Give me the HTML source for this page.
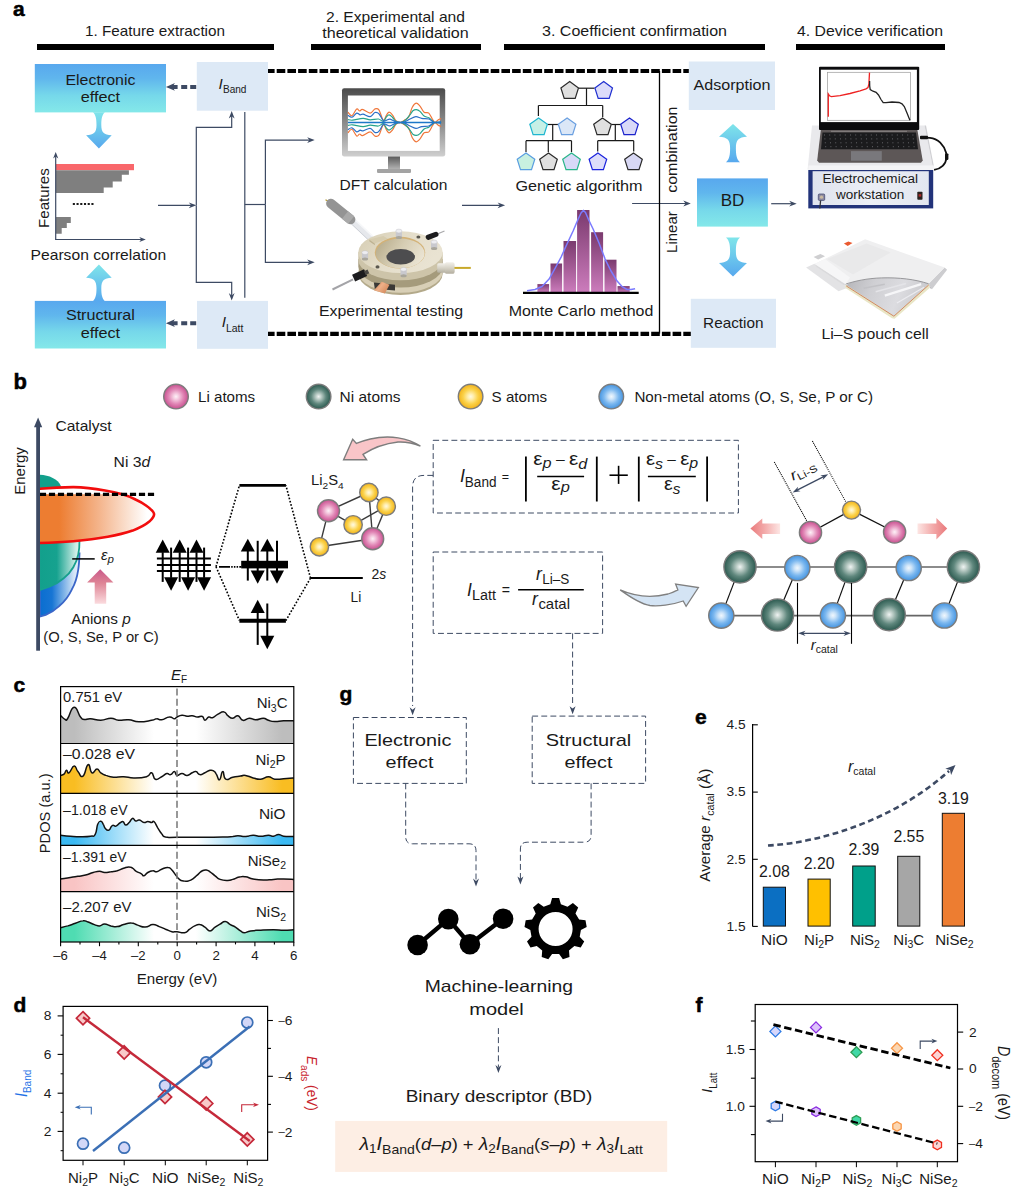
<!DOCTYPE html>
<html><head><meta charset="utf-8"><title>Figure</title>
<style>
html,body{margin:0;padding:0;background:#fff;}
svg{display:block;font-family:"Liberation Sans",sans-serif;}
text{white-space:pre;}
</style></head>
<body>
<svg width="1024" height="1195" viewBox="0 0 1024 1195">
<defs><linearGradient id="gBoxBlue" x1="0" y1="0" x2="0" y2="1"><stop offset="0" stop-color="#58a8ee"/><stop offset="0.3" stop-color="#60b6ed"/><stop offset="0.65" stop-color="#76d8ea"/><stop offset="1" stop-color="#84e8e9"/></linearGradient><linearGradient id="gDown" x1="0" y1="0" x2="0" y2="1"><stop offset="0" stop-color="#7fe5ea"/><stop offset="1" stop-color="#57a8ee"/></linearGradient><linearGradient id="gUp" x1="0" y1="0" x2="0" y2="1"><stop offset="0" stop-color="#7fe5ea"/><stop offset="1" stop-color="#57a8ee"/></linearGradient><linearGradient id="gUp2" x1="0" y1="0" x2="0" y2="1"><stop offset="0" stop-color="#7fe5ea"/><stop offset="1" stop-color="#57a8ee"/></linearGradient><linearGradient id="gDown2" x1="0" y1="0" x2="0" y2="1"><stop offset="0" stop-color="#7fe5ea"/><stop offset="1" stop-color="#57a8ee"/></linearGradient><linearGradient id="gMon" x1="0" y1="0" x2="0" y2="1"><stop offset="0" stop-color="#4b4b4b"/><stop offset="0.5" stop-color="#8a8a8a"/><stop offset="1" stop-color="#cfcfcf"/></linearGradient><linearGradient id="gNeck" x1="0" y1="0" x2="0" y2="1"><stop offset="0" stop-color="#5a5a5a"/><stop offset="1" stop-color="#b5b5b5"/></linearGradient><linearGradient id="gMC" gradientUnits="userSpaceOnUse" x1="0" y1="210" x2="0" y2="292"><stop offset="0" stop-color="#7a3a6e"/><stop offset="1" stop-color="#cc7cbc"/></linearGradient><linearGradient id="gPanel" x1="0" y1="0" x2="1" y2="0"><stop offset="0" stop-color="#dfe3ee"/><stop offset="0.5" stop-color="#eceff6"/><stop offset="1" stop-color="#e2e6f0"/></linearGradient><linearGradient id="gDisk" x1="0" y1="0" x2="1" y2="0.4"><stop offset="0" stop-color="#d5ccb2"/><stop offset="0.5" stop-color="#e4ddc9"/><stop offset="1" stop-color="#e9e3d2"/></linearGradient><linearGradient id="gBowl" x1="0" y1="0.3" x2="1" y2="0.7"><stop offset="0" stop-color="#b9ae8e"/><stop offset="0.45" stop-color="#d6cdb3"/><stop offset="1" stop-color="#ece6d6"/></linearGradient><linearGradient id="gCopper" x1="0" y1="0" x2="1" y2="0.6"><stop offset="0" stop-color="#c9784a"/><stop offset="0.5" stop-color="#eeb088"/><stop offset="1" stop-color="#d48a5c"/></linearGradient><linearGradient id="gSilver" x1="0" y1="0" x2="0" y2="1"><stop offset="0" stop-color="#f2f0ea"/><stop offset="0.5" stop-color="#d6d2c6"/><stop offset="1" stop-color="#b3ae9f"/></linearGradient><linearGradient id="gMCb" x1="0" y1="0" x2="0" y2="1"><stop offset="0" stop-color="#7a3a6e"/><stop offset="1" stop-color="#cc7cbc"/></linearGradient><linearGradient id="gFoil" x1="0" y1="0" x2="1" y2="0.2"><stop offset="0" stop-color="#b4b4b8"/><stop offset="0.35" stop-color="#cfcfd3"/><stop offset="0.7" stop-color="#dcdce0"/><stop offset="1" stop-color="#c9c9cd"/></linearGradient><radialGradient id="gLi" cx="0.5" cy="0.5" r="0.5"><stop offset="0" stop-color="#fdf1f7"/><stop offset="0.22" stop-color="#f5cde1"/><stop offset="0.6" stop-color="#e187b6"/><stop offset="1" stop-color="#c7508f"/></radialGradient><radialGradient id="gNi" cx="0.5" cy="0.5" r="0.5"><stop offset="0" stop-color="#f0f4f3"/><stop offset="0.22" stop-color="#bccdc7"/><stop offset="0.6" stop-color="#5f877d"/><stop offset="1" stop-color="#2b594f"/></radialGradient><radialGradient id="gS" cx="0.5" cy="0.5" r="0.5"><stop offset="0" stop-color="#fff9e0"/><stop offset="0.22" stop-color="#ffeeb0"/><stop offset="0.6" stop-color="#fbd24a"/><stop offset="1" stop-color="#f2b21a"/></radialGradient><radialGradient id="gX" cx="0.5" cy="0.5" r="0.5"><stop offset="0" stop-color="#f0f7fd"/><stop offset="0.22" stop-color="#cfe5f9"/><stop offset="0.6" stop-color="#7cb8ef"/><stop offset="1" stop-color="#4594e0"/></radialGradient><linearGradient id="gLobe" gradientUnits="userSpaceOnUse" x1="40" y1="0" x2="147" y2="0"><stop offset="0" stop-color="#ed7d31"/><stop offset="0.18" stop-color="#ed7d31"/><stop offset="0.55" stop-color="#f4b48b"/><stop offset="1" stop-color="#ffffff"/></linearGradient><linearGradient id="gBlob1" gradientUnits="userSpaceOnUse" x1="40" y1="0" x2="80" y2="0"><stop offset="0" stop-color="#12a08c"/><stop offset="0.42" stop-color="#16a28f"/><stop offset="0.9" stop-color="#cfeee7"/><stop offset="1" stop-color="#dff4ef"/></linearGradient><linearGradient id="gBlob2" gradientUnits="userSpaceOnUse" x1="40" y1="0" x2="80" y2="0"><stop offset="0" stop-color="#0a6ed0"/><stop offset="0.3" stop-color="#1775d4"/><stop offset="0.85" stop-color="#d3e5f7"/><stop offset="1" stop-color="#eaf2fb"/></linearGradient><linearGradient id="gPinkUp" gradientUnits="userSpaceOnUse" x1="0" y1="569" x2="0" y2="604"><stop offset="0" stop-color="#c9588a"/><stop offset="0.4" stop-color="#de8495"/><stop offset="1" stop-color="#fbdcdf"/></linearGradient><linearGradient id="gPinkL" gradientUnits="userSpaceOnUse" x1="750" y1="0" x2="780" y2="0"><stop offset="0" stop-color="#e9797b"/><stop offset="0.45" stop-color="#f2a6a6"/><stop offset="1" stop-color="#fde6e4"/></linearGradient><linearGradient id="gPinkR" gradientUnits="userSpaceOnUse" x1="917.5" y1="0" x2="947.2" y2="0"><stop offset="0" stop-color="#fde6e4"/><stop offset="0.55" stop-color="#f2a6a6"/><stop offset="1" stop-color="#e9797b"/></linearGradient><linearGradient id="gC1" gradientUnits="userSpaceOnUse" x1="60.6" y1="0" x2="293.8" y2="0"><stop offset="0" stop-color="#bdbdbd"/><stop offset="0.06" stop-color="#bdbdbd"/><stop offset="0.4" stop-color="#ffffff"/><stop offset="0.58" stop-color="#ffffff"/><stop offset="0.95" stop-color="#bdbdbd"/><stop offset="1" stop-color="#bdbdbd"/></linearGradient><linearGradient id="gC2" gradientUnits="userSpaceOnUse" x1="60.6" y1="0" x2="293.8" y2="0"><stop offset="0" stop-color="#f9bd22"/><stop offset="0.06" stop-color="#f9bd22"/><stop offset="0.4" stop-color="#ffffff"/><stop offset="0.58" stop-color="#ffffff"/><stop offset="0.95" stop-color="#f9bd22"/><stop offset="1" stop-color="#f9bd22"/></linearGradient><linearGradient id="gC3" gradientUnits="userSpaceOnUse" x1="60.6" y1="0" x2="293.8" y2="0"><stop offset="0" stop-color="#3bb9f2"/><stop offset="0.06" stop-color="#3bb9f2"/><stop offset="0.4" stop-color="#ffffff"/><stop offset="0.58" stop-color="#ffffff"/><stop offset="0.95" stop-color="#3bb9f2"/><stop offset="1" stop-color="#3bb9f2"/></linearGradient><linearGradient id="gC4" gradientUnits="userSpaceOnUse" x1="60.6" y1="0" x2="293.8" y2="0"><stop offset="0" stop-color="#f9c4c4"/><stop offset="0.06" stop-color="#f9c4c4"/><stop offset="0.4" stop-color="#ffffff"/><stop offset="0.58" stop-color="#ffffff"/><stop offset="0.95" stop-color="#f9c4c4"/><stop offset="1" stop-color="#f9c4c4"/></linearGradient><linearGradient id="gC5" gradientUnits="userSpaceOnUse" x1="60.6" y1="0" x2="293.8" y2="0"><stop offset="0" stop-color="#4fdcb2"/><stop offset="0.06" stop-color="#4fdcb2"/><stop offset="0.4" stop-color="#ffffff"/><stop offset="0.58" stop-color="#ffffff"/><stop offset="0.95" stop-color="#4fdcb2"/><stop offset="1" stop-color="#4fdcb2"/></linearGradient></defs>
<rect x="0" y="0" width="1024" height="1195" fill="#ffffff"/>
<g fill="#1a1a1a">
<text x="13.0" y="15.6" font-size="21" font-weight="bold" fill="#000" stroke="#000" stroke-width="0.5">a</text>
<text x="155.0" y="36.4" font-size="15" text-anchor="middle" textLength="140.0" lengthAdjust="spacingAndGlyphs">1. Feature extraction</text>
<text x="395.5" y="21.6" font-size="15" text-anchor="middle" textLength="139.0" lengthAdjust="spacingAndGlyphs">2. Experimental and</text>
<text x="395.5" y="38.4" font-size="15" text-anchor="middle" textLength="146.5" lengthAdjust="spacingAndGlyphs">theoretical validation</text>
<text x="634.5" y="36.4" font-size="15" text-anchor="middle" textLength="185.0" lengthAdjust="spacingAndGlyphs">3. Coefficient confirmation</text>
<text x="870.0" y="36.4" font-size="15" text-anchor="middle" textLength="146.0" lengthAdjust="spacingAndGlyphs">4. Device verification</text>
<rect x="37.0" y="44.0" width="237.0" height="6.0" fill="#000"/>
<rect x="311.0" y="44.0" width="170.0" height="6.0" fill="#000"/>
<rect x="504.0" y="44.0" width="261.0" height="6.0" fill="#000"/>
<rect x="796.0" y="44.0" width="149.0" height="6.0" fill="#000"/>
<line x1="266.0" y1="71.0" x2="689.0" y2="71.0" stroke="#000" stroke-width="4.2" stroke-dasharray="8.6 2.1"/>
<line x1="266.0" y1="333.9" x2="691.0" y2="333.9" stroke="#000" stroke-width="4.2" stroke-dasharray="8.6 2.1"/>
<rect x="34.8" y="64.0" width="131.2" height="48.4" fill="url(#gBoxBlue)"/>
<rect x="34.8" y="300.9" width="131.2" height="47.6" fill="url(#gBoxBlue)"/>
<rect x="196.8" y="62.0" width="71.2" height="48.7" fill="#dde9f6"/>
<rect x="197.0" y="300.9" width="71.0" height="47.9" fill="#dde9f6"/>
<rect x="688.8" y="61.5" width="86.2" height="48.5" fill="#dde9f6"/>
<rect x="690.8" y="298.8" width="85.2" height="49.0" fill="#dde9f6"/>
<rect x="697.0" y="178.4" width="70.9" height="48.2" fill="url(#gBoxBlue)"/>
<text x="100.4" y="85.0" font-size="15" text-anchor="middle" textLength="70.0" lengthAdjust="spacingAndGlyphs">Electronic</text>
<text x="100.4" y="102.4" font-size="15" text-anchor="middle" textLength="39.5" lengthAdjust="spacingAndGlyphs">effect</text>
<text x="100.4" y="320.4" font-size="15" text-anchor="middle" textLength="69.0" lengthAdjust="spacingAndGlyphs">Structural</text>
<text x="100.4" y="337.6" font-size="15" text-anchor="middle" textLength="39.5" lengthAdjust="spacingAndGlyphs">effect</text>
<g transform="translate(218.60 89.30)"><text x="0.00" y="0.00" font-size="15.3" font-style="italic">I</text></g>
<g transform="translate(222.90 92.70) scale(0.8711 1)"><text x="0.00" y="0.00" font-size="11.6">Band</text></g>
<g transform="translate(221.80 327.10)"><text x="0.00" y="0.00" font-size="15.3" font-style="italic">I</text></g>
<g transform="translate(225.90 331.80) scale(0.9044 1)"><text x="0.00" y="0.00" font-size="11.6">Latt</text></g>
<text x="732.0" y="90.1" font-size="15" text-anchor="middle" textLength="77.0" lengthAdjust="spacingAndGlyphs">Adsorption</text>
<text x="733.3" y="327.9" font-size="15" text-anchor="middle" textLength="60.4" lengthAdjust="spacingAndGlyphs">Reaction</text>
<text x="732.6" y="206.2" font-size="17" text-anchor="middle" textLength="23.6" lengthAdjust="spacingAndGlyphs">BD</text>
<line x1="196.2" y1="86.9" x2="172.0" y2="86.9" stroke="#3d4a63" stroke-width="4" stroke-dasharray="6 3 6 3.6 20"/>
<polygon points="165.9,86.9 174.9,83.0 172.4,86.9 174.9,90.8" fill="#3d4a63"/>
<line x1="196.2" y1="323.2" x2="172.0" y2="323.2" stroke="#3d4a63" stroke-width="4" stroke-dasharray="6 3 6 3.6 20"/>
<polygon points="165.9,323.2 174.9,319.3 172.4,323.2 174.9,327.1" fill="#3d4a63"/>
<path d="M92.9,112.2 C95.9,115.0 96.5,119.1 96.5,124.9 C96.5,132.4 94.0,134.6 86.1,135.2 L98.9,148.4 L111.7,135.2 C103.8,134.6 101.3,132.4 101.3,124.9 C101.3,119.1 101.9,115.0 104.9,112.2 Z" fill="url(#gDown)"/>
<path d="M92.9,301.2 C95.9,298.4 96.5,294.1 96.5,288.3 C96.5,280.5 94.0,278.3 86.1,277.7 L98.9,264.5 L111.7,277.7 C103.8,278.3 101.3,280.5 101.3,288.3 C101.3,294.1 101.9,298.4 104.9,301.2 Z" fill="url(#gUp)"/>
<path d="M726.0,162.3 C729.5,159.2 730.1,154.7 730.1,148.3 C730.1,139.9 727.6,137.4 719.0,136.8 L733.0,124.0 L747.0,136.8 C738.4,137.4 735.9,139.9 735.9,148.3 C735.9,154.7 736.5,159.2 740.0,162.3 Z" fill="url(#gUp2)"/>
<path d="M726.0,237.5 C729.5,240.6 730.1,245.2 730.1,251.5 C730.1,259.9 727.6,262.4 719.0,263.0 L733.0,276.6 L747.0,263.0 C738.4,262.4 735.9,259.9 735.9,251.5 C735.9,245.2 736.5,240.6 740.0,237.5 Z" fill="url(#gDown2)"/>
<rect x="56.0" y="164.0" width="78.0" height="6.2" fill="#f9676b"/>
<polygon points="56.0,170.2 128.9,170.2 128.9,174.7 121.8,174.7 121.8,181.5 112.7,181.5 112.7,187.5 103.7,187.5 103.7,192.9 56.0,192.9" fill="#7f7f7f"/>
<polygon points="56.0,217.0 70.8,217.0 70.8,222.9 66.8,222.9 66.8,228.0 61.7,228.0 61.7,233.7 56.0,233.7" fill="#7f7f7f"/>
<polyline points="55.7,239.5 55.7,155.9" fill="none" stroke="#3d4a63" stroke-width="1.2"/><polygon points="55.7,152.0 58.3,158.5 55.7,156.6 53.1,158.5" fill="#3d4a63"/>
<polyline points="55.1,239.5 141.9,239.5" fill="none" stroke="#3d4a63" stroke-width="1.2"/><polygon points="145.8,239.5 139.3,242.1 141.2,239.5 139.3,236.9" fill="#3d4a63"/>
<line x1="72.8" y1="204.0" x2="94.6" y2="204.0" stroke="#1a1a1a" stroke-width="2" stroke-dasharray="2.1 1.62"/>
<text x="48.6" y="198.1" font-size="15.5" text-anchor="middle" textLength="59.6" lengthAdjust="spacingAndGlyphs" transform="rotate(-90 48.6 198.1)">Features</text>
<text x="98.4" y="260.0" font-size="15" text-anchor="middle" textLength="135.6" lengthAdjust="spacingAndGlyphs">Pearson correlation</text>
<polyline points="158.0,205.3 191.8,205.3" fill="none" stroke="#3d4a63" stroke-width="1.2"/><polygon points="196.3,205.3 188.8,208.2 191.1,205.3 188.8,202.4" fill="#3d4a63"/>
<polyline points="196.3,205.3 196.3,127.4 231.7,127.4 231.7,115.4" fill="none" stroke="#3d4a63" stroke-width="1.2"/><polygon points="231.7,110.9 234.6,118.4 231.7,116.2 228.8,118.4" fill="#3d4a63"/>
<polyline points="196.3,205.3 196.3,282.4 231.7,282.4 231.7,296.1" fill="none" stroke="#3d4a63" stroke-width="1.2"/><polygon points="231.7,300.6 228.8,293.1 231.7,295.4 234.6,293.1" fill="#3d4a63"/>
<line x1="244.8" y1="112.0" x2="244.8" y2="297.7" stroke="#3d4a63" stroke-width="1.2"/>
<line x1="244.8" y1="204.5" x2="265.4" y2="204.5" stroke="#3d4a63" stroke-width="1.2"/>
<polyline points="265.4,204.5 265.4,140.1 310.2,140.1" fill="none" stroke="#3d4a63" stroke-width="1.2"/><polygon points="314.7,140.1 307.2,143.0 309.4,140.1 307.2,137.2" fill="#3d4a63"/>
<polyline points="265.4,204.5 265.4,262.3 310.2,262.3" fill="none" stroke="#3d4a63" stroke-width="1.2"/><polygon points="314.7,262.3 307.2,265.2 309.4,262.3 307.2,259.4" fill="#3d4a63"/>
<polyline points="462.0,205.3 500.6,205.3" fill="none" stroke="#3d4a63" stroke-width="1.2"/><polygon points="505.1,205.3 497.6,208.2 499.9,205.3 497.6,202.4" fill="#3d4a63"/>
<polyline points="632.1,203.5 686.3,203.5" fill="none" stroke="#3d4a63" stroke-width="1.2"/><polygon points="690.8,203.5 683.3,206.4 685.5,203.5 683.3,200.6" fill="#3d4a63"/>
<polyline points="771.2,203.7 792.2,203.7" fill="none" stroke="#3d4a63" stroke-width="1.2"/><polygon points="796.7,203.7 789.2,206.6 791.5,203.7 789.2,200.8" fill="#3d4a63"/>
<line x1="659.5" y1="71.0" x2="659.5" y2="333.5" stroke="#000" stroke-width="1.3"/>
<text x="677.0" y="149.7" font-size="15" text-anchor="middle" textLength="86.3" lengthAdjust="spacingAndGlyphs" transform="rotate(-90 677.0 149.7)">combination</text>
<text x="677.0" y="232.1" font-size="15" text-anchor="middle" textLength="41.6" lengthAdjust="spacingAndGlyphs" transform="rotate(-90 677.0 232.1)">Linear</text>
<text x="393.5" y="189.7" font-size="15" text-anchor="middle" textLength="107.9" lengthAdjust="spacingAndGlyphs">DFT calculation</text>
<text x="391.0" y="316.3" font-size="15" text-anchor="middle" textLength="144.2" lengthAdjust="spacingAndGlyphs">Experimental testing</text>
<text x="579.0" y="190.6" font-size="15" text-anchor="middle" textLength="127.0" lengthAdjust="spacingAndGlyphs">Genetic algorithm</text>
<text x="581.0" y="315.7" font-size="15" text-anchor="middle" textLength="144.6" lengthAdjust="spacingAndGlyphs">Monte Carlo method</text>
<text x="875.2" y="338.6" font-size="15" text-anchor="middle" textLength="107.3" lengthAdjust="spacingAndGlyphs">Li–S pouch cell</text>
<rect x="342.0" y="88.3" width="103.2" height="68.2" fill="url(#gMon)" rx="2.2"/><rect x="347.9" y="95.5" width="91.8" height="55.4" fill="#fff"/><rect x="388.0" y="156.5" width="12.0" height="13.0" fill="url(#gNeck)"/><rect x="377.0" y="169.1" width="34.0" height="3.8" fill="#a3a3a3" rx="0.8"/><path d="M347.9,112.2 C348.6,112.8 350.5,116.2 352.0,115.7 C353.5,115.2 355.4,109.8 356.7,109.0 C358.0,108.2 358.6,111.0 359.6,111.0 C360.6,111.1 360.8,109.0 362.5,109.4 C364.3,109.7 368.1,113.2 370.2,113.1 C372.2,113.1 373.4,109.6 374.8,109.0 C376.3,108.5 377.5,108.0 378.9,109.8 C380.4,111.7 382.0,119.3 383.3,120.2 C384.6,121.0 385.6,116.2 386.6,114.9 C387.5,113.6 388.2,112.2 389.1,112.2 C390.1,112.2 391.3,113.5 392.4,114.9 C393.6,116.3 394.6,119.5 395.9,120.7 C397.3,122.0 399.1,122.5 400.6,122.3 C402.2,122.1 403.9,120.5 405.3,119.6 C406.7,118.6 407.7,118.7 408.8,116.6 C410.0,114.6 411.1,109.5 412.3,107.3 C413.6,105.0 414.8,103.4 416.1,103.2 C417.4,103.0 418.6,104.6 420.0,106.1 C421.3,107.6 422.6,111.0 424.1,112.2 C425.5,113.4 427.4,112.0 428.8,113.1 C430.1,114.3 431.3,117.5 432.3,119.0 C433.3,120.5 433.9,122.1 434.8,122.3 C435.8,122.4 437.1,120.6 438.1,119.9 C439.2,119.3 440.6,118.7 441.1,118.4" fill="none" stroke="#f0763a" stroke-width="1.2"/><path d="M347.9,132.8 C348.6,132.2 350.5,128.8 352.0,129.3 C353.5,129.8 355.4,135.2 356.7,136.0 C358.0,136.8 358.6,134.0 359.6,134.0 C360.6,133.9 360.8,136.0 362.5,135.6 C364.3,135.3 368.1,131.8 370.2,131.9 C372.2,131.9 373.4,135.4 374.8,136.0 C376.3,136.5 377.5,137.0 378.9,135.2 C380.4,133.3 382.0,125.7 383.3,124.8 C384.6,124.0 385.6,128.8 386.6,130.1 C387.5,131.4 388.2,132.8 389.1,132.8 C390.1,132.8 391.3,131.5 392.4,130.1 C393.6,128.7 394.6,125.5 395.9,124.3 C397.3,123.0 399.1,122.5 400.6,122.7 C402.2,122.9 403.9,124.5 405.3,125.4 C406.7,126.4 407.7,126.3 408.8,128.4 C410.0,130.4 411.1,135.5 412.3,137.7 C413.6,140.0 414.8,141.6 416.1,141.8 C417.4,142.0 418.6,140.4 420.0,138.9 C421.3,137.4 422.6,134.0 424.1,132.8 C425.5,131.6 427.4,133.0 428.8,131.9 C430.1,130.7 431.3,127.5 432.3,126.0 C433.3,124.5 433.9,122.9 434.8,122.7 C435.8,122.6 437.1,124.4 438.1,125.1 C439.2,125.7 440.6,126.3 441.1,126.6" fill="none" stroke="#f0763a" stroke-width="1.2"/><path d="M347.9,119.6 C348.7,119.7 350.0,120.4 352.6,120.2 C355.1,120.0 360.2,118.4 363.1,118.4 C366.1,118.4 367.6,119.8 370.2,119.9 C372.7,120.0 376.2,118.8 378.4,119.0 C380.5,119.2 381.9,121.7 383.3,121.3 C384.7,120.9 385.6,117.7 386.6,116.6 C387.5,115.6 388.2,114.8 389.1,114.9 C390.1,115.0 391.3,116.2 392.4,117.2 C393.6,118.3 394.6,120.5 395.9,121.3 C397.3,122.2 399.1,122.7 400.6,122.5 C402.2,122.3 403.8,121.4 405.3,120.2 C406.9,118.9 408.7,116.4 410.0,114.9 C411.3,113.3 411.9,111.7 412.9,110.8 C414.0,109.9 415.3,109.5 416.4,109.6 C417.6,109.7 418.7,110.3 420.0,111.4 C421.2,112.4 422.6,115.0 424.1,116.1 C425.5,117.1 427.3,116.9 428.8,117.8 C430.2,118.7 431.8,120.5 432.9,121.3 C433.9,122.1 433.5,122.3 434.8,122.5 C436.2,122.7 440.0,122.3 441.1,122.3" fill="none" stroke="#27a48b" stroke-width="1.2"/><path d="M347.9,125.4 C348.7,125.3 350.0,124.6 352.6,124.8 C355.1,125.0 360.2,126.6 363.1,126.6 C366.1,126.6 367.6,125.2 370.2,125.1 C372.7,125.0 376.2,126.3 378.4,126.0 C380.5,125.8 381.9,123.3 383.3,123.7 C384.7,124.1 385.6,127.3 386.6,128.4 C387.5,129.4 388.2,130.2 389.1,130.1 C390.1,130.0 391.3,128.8 392.4,127.8 C393.6,126.7 394.6,124.6 395.9,123.7 C397.3,122.8 399.1,122.3 400.6,122.5 C402.2,122.7 403.8,123.6 405.3,124.8 C406.9,126.1 408.7,128.6 410.0,130.1 C411.3,131.7 411.9,133.3 412.9,134.2 C414.0,135.1 415.3,135.5 416.4,135.4 C417.6,135.3 418.7,134.7 420.0,133.6 C421.2,132.6 422.6,130.0 424.1,128.9 C425.5,127.9 427.3,128.1 428.8,127.2 C430.2,126.3 431.8,124.5 432.9,123.7 C433.9,122.9 433.5,122.7 434.8,122.5 C436.2,122.3 440.0,122.7 441.1,122.7" fill="none" stroke="#27a48b" stroke-width="1.2"/><path d="M347.9,115.2 C348.6,115.6 350.5,117.6 352.0,117.2 C353.5,116.9 355.3,113.5 356.7,113.1 C358.0,112.7 359.1,114.7 360.2,114.9 C361.3,115.0 361.5,113.8 363.1,114.1 C364.8,114.4 368.2,116.9 370.2,116.6 C372.1,116.4 373.4,113.0 374.8,112.5 C376.3,112.1 377.5,112.3 378.9,113.7 C380.4,115.1 382.0,119.7 383.3,120.7 C384.6,121.8 385.4,120.4 386.6,120.2 C387.7,119.9 388.5,118.9 390.1,119.2 C391.6,119.5 394.2,121.4 395.9,121.9 C397.7,122.5 399.1,122.6 400.6,122.5 C402.2,122.4 403.8,122.1 405.3,121.6 C406.9,121.0 408.2,119.8 410.0,119.0 C411.8,118.2 413.9,116.7 415.9,116.6 C417.8,116.5 419.6,118.0 421.7,118.4 C423.9,118.8 426.9,118.5 428.8,119.0 C430.6,119.5 431.8,121.0 432.9,121.6 C433.9,122.1 433.5,122.4 434.8,122.5 C436.2,122.6 440.0,122.0 441.1,121.9" fill="none" stroke="#2a6fc6" stroke-width="1.2"/><path d="M347.9,129.8 C348.6,129.4 350.5,127.4 352.0,127.8 C353.5,128.1 355.3,131.5 356.7,131.9 C358.0,132.3 359.1,130.3 360.2,130.1 C361.3,130.0 361.5,131.2 363.1,130.9 C364.8,130.6 368.2,128.1 370.2,128.4 C372.1,128.6 373.4,132.0 374.8,132.5 C376.3,133.0 377.5,132.7 378.9,131.3 C380.4,129.9 382.0,125.3 383.3,124.3 C384.6,123.2 385.4,124.6 386.6,124.8 C387.7,125.1 388.5,126.1 390.1,125.8 C391.6,125.5 394.2,123.6 395.9,123.1 C397.7,122.5 399.1,122.4 400.6,122.5 C402.2,122.6 403.8,122.9 405.3,123.4 C406.9,124.0 408.2,125.2 410.0,126.0 C411.8,126.8 413.9,128.3 415.9,128.4 C417.8,128.5 419.6,127.0 421.7,126.6 C423.9,126.2 426.9,126.5 428.8,126.0 C430.6,125.5 431.8,124.0 432.9,123.4 C433.9,122.9 433.5,122.6 434.8,122.5 C436.2,122.4 440.0,123.0 441.1,123.1" fill="none" stroke="#2a6fc6" stroke-width="1.2"/><line x1="347.9" y1="122.5" x2="441.0" y2="122.5" stroke="#1e78c8" stroke-width="1.3"/>
<line x1="325.5" y1="199.7" x2="330.2" y2="202.3" stroke="#b89a30" stroke-width="1.3"/><line x1="351.2" y1="220.0" x2="370.8" y2="238.4" stroke="#e6e8ec" stroke-width="6.2"/><line x1="353.6" y1="218.4" x2="372.3" y2="235.9" stroke="#f6f7f9" stroke-width="1.6"/><line x1="349.4" y1="221.9" x2="368.8" y2="240.3" stroke="#cfd2d8" stroke-width="1.0"/><line x1="330.9" y1="203.6" x2="350.6" y2="219.5" stroke="#949494" stroke-width="9.6" stroke-linecap="round"/><line x1="345.0" y1="215.0" x2="351.2" y2="220.0" stroke="#a9a9a9" stroke-width="9.6"/><ellipse cx="400.5" cy="273.5" rx="42.2" ry="21.5" fill="#b3a98a"/><ellipse cx="400.5" cy="271.5" rx="42.2" ry="21.3" fill="#d8cfb6"/><path d="M358.3,259 L358.3,266.5 A42.2,21 0 0 0 442.7,266.5 L442.7,259 Z" fill="#a59b7c"/><path d="M358.3,252.2 L358.3,259.4 A42.2,20.9 0 0 0 442.7,259.4 L442.7,252.2 Z" fill="#cdc4a9"/><ellipse cx="400.5" cy="252.2" rx="42.2" ry="20.9" fill="url(#gDisk)"/><polygon points="373.9,282.5 395.0,284.8 395.0,290.6 374.7,288.8" fill="#3a3936"/><polygon points="373.9,290.3 381.7,281.7 389.5,284.8 384.8,293.4" fill="url(#gCopper)"/><ellipse cx="400.0" cy="252.6" rx="25.2" ry="15.8" fill="#d3b277"/><ellipse cx="400.2" cy="253.4" rx="24.4" ry="14.9" fill="url(#gBowl)"/><ellipse cx="400.7" cy="256.7" rx="14.3" ry="7.8" fill="#4d4d4f"/><polygon points="369.2,239.5 383.3,235.9 388.0,238.8 374.7,243.4" fill="#d6ccaf"/><polygon points="369.2,239.5 374.7,243.4 375.0,245.3 369.5,241.4" fill="#bdb291"/><rect x="395.8" y="231.0" width="6.2" height="6.5" fill="#c9c9ce"/><ellipse cx="398.9" cy="237.5" rx="3.1" ry="1.5" fill="#a9a69b"/><ellipse cx="398.9" cy="231.0" rx="3.1" ry="1.9" fill="#ededf1" stroke="#bdbdc2" stroke-width="0.4"/><rect x="361.9" y="252.6" width="6.2" height="6.5" fill="#c9c9ce"/><ellipse cx="365.0" cy="259.1" rx="3.1" ry="1.5" fill="#a9a69b"/><ellipse cx="365.0" cy="252.6" rx="3.1" ry="1.9" fill="#ededf1" stroke="#bdbdc2" stroke-width="0.4"/><rect x="431.0" y="241.9" width="6.2" height="6.5" fill="#c9c9ce"/><ellipse cx="434.1" cy="248.4" rx="3.1" ry="1.5" fill="#a9a69b"/><ellipse cx="434.1" cy="241.9" rx="3.1" ry="1.9" fill="#ededf1" stroke="#bdbdc2" stroke-width="0.4"/><rect x="400.5" y="269.3" width="6.2" height="6.5" fill="#c9c9ce"/><ellipse cx="403.6" cy="275.8" rx="3.1" ry="1.5" fill="#a9a69b"/><ellipse cx="403.6" cy="269.3" rx="3.1" ry="1.9" fill="#ededf1" stroke="#bdbdc2" stroke-width="0.4"/><ellipse cx="418.4" cy="236.9" rx="2.0" ry="1.5" fill="#5a574e"/><ellipse cx="377.5" cy="266.9" rx="2.0" ry="1.6" fill="#5a574e"/><rect x="437.2" y="263.2" width="17.2" height="9.6" fill="url(#gSilver)" rx="1.5"/><rect x="445.0" y="262.3" width="9.4" height="11.4" fill="url(#gSilver)" rx="1.5"/><line x1="454.4" y1="267.9" x2="470.8" y2="267.9" stroke="#c8a92a" stroke-width="2"/><line x1="332.5" y1="289.5" x2="353.1" y2="279.4" stroke="#a4a4a8" stroke-width="2"/><line x1="353.6" y1="278.1" x2="365.6" y2="272.7" stroke="#1c1c1e" stroke-width="7.4" stroke-linecap="butt"/><line x1="364.8" y1="273.1" x2="368.4" y2="271.4" stroke="#4a4843" stroke-width="4"/><line x1="435.6" y1="234.8" x2="444.5" y2="230.9" stroke="#a9a9ab" stroke-width="1.1"/><line x1="428.3" y1="237.2" x2="435.9" y2="234.4" stroke="#1c1c1e" stroke-width="5.2" stroke-linecap="round"/>
<line x1="586.5" y1="88.2" x2="586.5" y2="105.5" stroke="#1a1a1a" stroke-width="1.2"/><line x1="578.7" y1="88.2" x2="594.5" y2="88.2" stroke="#1a1a1a" stroke-width="1.2"/><line x1="538.4" y1="105.5" x2="602.7" y2="105.5" stroke="#1a1a1a" stroke-width="1.2"/><line x1="538.4" y1="105.5" x2="538.4" y2="116.0" stroke="#1a1a1a" stroke-width="1.2"/><line x1="602.7" y1="105.5" x2="602.7" y2="117.0" stroke="#1a1a1a" stroke-width="1.2"/><line x1="547.5" y1="124.5" x2="558.5" y2="124.5" stroke="#1a1a1a" stroke-width="1.2"/><line x1="552.7" y1="124.5" x2="552.7" y2="140.7" stroke="#1a1a1a" stroke-width="1.2"/><line x1="611.3" y1="124.5" x2="621.0" y2="124.5" stroke="#1a1a1a" stroke-width="1.2"/><line x1="615.3" y1="124.5" x2="615.3" y2="140.7" stroke="#1a1a1a" stroke-width="1.2"/><line x1="526.0" y1="140.7" x2="571.5" y2="140.7" stroke="#1a1a1a" stroke-width="1.2"/><line x1="526.0" y1="140.7" x2="526.0" y2="152.0" stroke="#1a1a1a" stroke-width="1.2"/><line x1="548.3" y1="140.7" x2="548.3" y2="152.0" stroke="#1a1a1a" stroke-width="1.2"/><line x1="571.5" y1="140.7" x2="571.5" y2="152.0" stroke="#1a1a1a" stroke-width="1.2"/><line x1="597.7" y1="140.7" x2="633.7" y2="140.7" stroke="#1a1a1a" stroke-width="1.2"/><line x1="597.7" y1="140.7" x2="597.7" y2="151.5" stroke="#1a1a1a" stroke-width="1.2"/><line x1="633.7" y1="140.7" x2="633.7" y2="151.5" stroke="#1a1a1a" stroke-width="1.2"/><polygon points="569.7,81.6 578.5,88.0 575.2,98.4 564.2,98.4 560.9,88.0" fill="#e0e0e0" stroke="#2b2b2b" stroke-width="1.2" stroke-linejoin="miter"/><polygon points="603.7,81.6 612.5,88.0 609.2,98.4 598.2,98.4 594.9,88.0" fill="#dcdcfa" stroke="#1f2fd0" stroke-width="1.2" stroke-linejoin="miter"/><polygon points="538.6,117.9 547.4,124.3 544.1,134.7 533.1,134.7 529.8,124.3" fill="#c6f0e6" stroke="#1fb6d0" stroke-width="1.2" stroke-linejoin="miter"/><polygon points="567.1,117.9 575.9,124.3 572.6,134.7 561.6,134.7 558.3,124.3" fill="#dbe7f7" stroke="#6a9fe0" stroke-width="1.2" stroke-linejoin="miter"/><polygon points="602.5,117.9 611.3,124.3 608.0,134.7 597.0,134.7 593.7,124.3" fill="#e0e0e0" stroke="#2b2b2b" stroke-width="1.2" stroke-linejoin="miter"/><polygon points="629.5,117.9 638.3,124.3 635.0,134.7 624.0,134.7 620.7,124.3" fill="#d9d9f8" stroke="#1a22cc" stroke-width="1.2" stroke-linejoin="miter"/><polygon points="526.0,152.9 534.8,159.3 531.5,169.7 520.5,169.7 517.2,159.3" fill="#c8f0e0" stroke="#5a9ee0" stroke-width="1.2" stroke-linejoin="miter"/><polygon points="548.5,152.9 557.3,159.3 554.0,169.7 543.0,169.7 539.7,159.3" fill="#e0e0e0" stroke="#2b2b2b" stroke-width="1.2" stroke-linejoin="miter"/><polygon points="571.5,152.9 580.3,159.3 577.0,169.7 566.0,169.7 562.7,159.3" fill="#d9d9f8" stroke="#2ab58a" stroke-width="1.2" stroke-linejoin="miter"/><polygon points="597.9,152.9 606.7,159.3 603.4,169.7 592.4,169.7 589.1,159.3" fill="#dcdcfa" stroke="#1a22dd" stroke-width="1.2" stroke-linejoin="miter"/><polygon points="633.5,152.9 642.3,159.3 639.0,169.7 628.0,169.7 624.7,159.3" fill="#d8d8f4" stroke="#2b2b2b" stroke-width="1.2" stroke-linejoin="miter"/>
<rect x="537.4" y="284.1" width="11.7" height="8.1" fill="url(#gMCb)"/><rect x="550.5" y="263.5" width="11.6" height="28.7" fill="url(#gMCb)"/><rect x="563.5" y="241.0" width="12.6" height="51.2" fill="url(#gMCb)"/><rect x="577.1" y="210.0" width="12.4" height="82.2" fill="url(#gMCb)"/><rect x="591.1" y="232.2" width="12.0" height="60.0" fill="url(#gMCb)"/><rect x="604.5" y="259.7" width="12.0" height="32.5" fill="url(#gMCb)"/><rect x="617.5" y="286.1" width="12.2" height="6.1" fill="url(#gMCb)"/><line x1="523.0" y1="292.8" x2="638.7" y2="292.8" stroke="#000" stroke-width="2.2"/><path d="M527.0,290.7 L535.0,289.5 L542.0,286.5 L549.1,279.1 L555.0,268.5 L561.1,257.1 L567.0,244.0 L573.1,231.0 L578.0,219.5 L581.0,213.0 L583.3,210.4 L585.5,212.5 L588.5,219.5 L593.1,229.0 L599.0,243.0 L605.1,259.1 L611.0,271.0 L617.1,281.1 L622.0,286.6 L627.1,289.5 L631.0,289.6 L635.1,288.7" fill="none" stroke="#7b7bff" stroke-width="1.5" stroke-linejoin="round"/>
<polygon points="812.0,125.6 924.5,125.6 933.3,169.5 807.6,169.5" fill="#e9e9ec"/><polygon points="924.5,125.6 926.0,125.6 934.5,169.5 933.3,169.5" fill="#d0d0d4"/><rect x="808.3" y="165.4" width="125.7" height="5.0" fill="#f4f4f6"/><rect x="808.3" y="170.0" width="124.9" height="38.4" fill="#22337a"/><rect x="812.6" y="171.2" width="116.2" height="33.8" fill="url(#gPanel)"/><text x="870.2" y="182.7" font-size="12.5" text-anchor="middle" textLength="95.5" lengthAdjust="spacingAndGlyphs">Electrochemical</text><text x="870.2" y="199.4" font-size="12.5" text-anchor="middle" textLength="68.3" lengthAdjust="spacingAndGlyphs">workstation</text><rect x="818.3" y="194.0" width="6.4" height="6.4" fill="#8d8aa0" stroke="#3a3f6a" stroke-width="0.7" rx="1"/><circle cx="821.5" cy="197.2" r="1.6" fill="#c9b9a0"/><line x1="820.6" y1="200.5" x2="819.8" y2="208.5" stroke="#33333a" stroke-width="1.3"/><rect x="917.3" y="191.8" width="5.2" height="8.0" fill="#2a2220" rx="0.8"/><rect x="918.6" y="194.2" width="2.6" height="2.4" fill="#b02a2a"/><polygon points="820.8,130.0 917.4,130.0 922.7,160.5 921.0,162.8 819.0,162.8 817.2,160.5" fill="#5d5757"/><polygon points="822.5,132.6 916.0,132.6 918.0,149.3 821.0,149.3" fill="#1b1b1d"/><line x1="831.0" y1="131.3" x2="907.0" y2="131.3" stroke="#8a8585" stroke-width="1"/><rect x="851.0" y="151.1" width="30.8" height="9.6" fill="#79787c"/><line x1="824.0" y1="135.0" x2="917.0" y2="135.0" stroke="#77777c" stroke-width="0.8" stroke-dasharray="1 4.2"/><line x1="824.4" y1="138.9" x2="917.0" y2="138.9" stroke="#77777c" stroke-width="0.8" stroke-dasharray="1 4.2"/><line x1="824.8" y1="142.8" x2="917.0" y2="142.8" stroke="#77777c" stroke-width="0.8" stroke-dasharray="1 4.2"/><line x1="825.2" y1="146.7" x2="917.0" y2="146.7" stroke="#77777c" stroke-width="0.8" stroke-dasharray="1 4.2"/><rect x="819.0" y="66.7" width="100.2" height="63.3" fill="#0c0c0e" rx="1"/><rect x="820.8" y="69.7" width="96.1" height="52.4" fill="#fff"/><rect x="827.4" y="72.3" width="83.0" height="48.0" fill="#fff" stroke="#9a9a9a" stroke-width="0.7"/><polyline points="828.3,116.8 828.3,93.9 829.5,95.8 831.3,96.6 840.0,95.6 850.0,93.5 860.0,90.8 866.0,88.9 868.0,87.6 868.9,84.0 869.5,72.6" fill="none" stroke="#ee2222" stroke-width="1.3"/><polyline points="869.6,81.0 869.7,86.0 870.2,89.6 873.0,91.2 876.1,92.4 878.5,95.0 881.0,99.5 883.2,102.7 886.0,102.6 892.0,102.0 899.0,102.5 902.0,103.8 904.3,106.5 907.0,113.0 909.9,120.3" fill="none" stroke="#222" stroke-width="1.3"/><path d="M920,137.4 L930,137.8 C938,138.5 944,145 946.2,153 L946.4,158 C946,164 941,169 934.1,169.9" fill="none" stroke="#111" stroke-width="1.8"/><rect x="920.0" y="135.8" width="8.0" height="3.4" fill="#111" rx="1"/><rect x="945.0" y="153.5" width="3.4" height="6.4" fill="#111" rx="0.8"/>
<polygon points="813.6,257.0 820.4,253.9 825.0,256.2 818.2,259.6" fill="#cfcfd1"/><polygon points="843.9,243.4 848.4,241.4 852.5,243.1 847.7,245.9" fill="#ea5a30"/><polygon points="806.1,267.6 814.4,263.8 845.4,284.2 846.2,288.3 838.6,291.3" fill="#e3e3e5"/><polygon points="845.4,285.0 929.0,283.9 929.9,287.7 894.6,318.7 892.0,318.3 845.4,288.0" fill="#e9e6c6"/><polygon points="846.2,285.0 860.6,277.1 915.0,277.1 928.7,284.2 893.9,315.7" fill="url(#gFoil)"/><polyline points="846.2,285.9 893.9,316.2 928.7,285.0" fill="none" stroke="#c9714a" stroke-width="0.8"/><line x1="884.8" y1="295.6" x2="921.1" y2="284.2" stroke="#f6f6f8" stroke-width="2.4"/><line x1="875.7" y1="291.8" x2="906.0" y2="283.5" stroke="#e4e4e8" stroke-width="1.4"/><line x1="896.9" y1="303.1" x2="924.1" y2="287.3" stroke="#ececf0" stroke-width="1.2"/><line x1="863.6" y1="288.3" x2="884.8" y2="284.2" stroke="#c2c2c6" stroke-width="1.6"/><polygon points="928.7,283.5 944.6,267.6 947.1,269.8 932.0,289.2" fill="#cdcdd0"/><polygon points="928.7,283.5 932.0,289.2 930.2,288.3" fill="#b9b9bc"/><path d="M814.4,264.1 L865.1,239.3 L944.6,267.6 L928.7,283.8 C915.0,279.2 898.4,277.4 881.7,277.9 C866.6,278.3 854.5,281.2 845.4,284.2 Z" fill="#efeff0"/><path d="M928.7,283.8 C915.0,279.2 898.4,277.4 881.7,277.9 C866.6,278.3 854.5,281.2 845.4,284.2" fill="none" stroke="#8e8e92" stroke-width="0.9"/><polygon points="814.4,264.1 825.0,258.9 850.0,277.4 845.4,284.2" fill="#f6f6f7"/><polygon points="814.4,264.1 816.7,267.1 843.9,285.3 845.4,284.2" fill="#dadadc"/><polygon points="827.2,258.9 866.6,243.4 890.8,252.4 853.0,274.4" fill="#e9e9ea"/>
<text x="13.5" y="389.1" font-size="22" font-weight="bold" fill="#000" stroke="#000" stroke-width="0.5">b</text>
<circle cx="176.0" cy="396.6" r="12.3" fill="url(#gLi)" stroke="#7c7c7c" stroke-width="1.4"/>
<text x="198.0" y="401.8" font-size="15" textLength="57.2" lengthAdjust="spacingAndGlyphs">Li atoms</text>
<circle cx="318.6" cy="396.6" r="12.3" fill="url(#gNi)" stroke="#7c7c7c" stroke-width="1.4"/>
<text x="339.6" y="401.8" font-size="15" textLength="61.0" lengthAdjust="spacingAndGlyphs">Ni atoms</text>
<circle cx="470.6" cy="396.6" r="12.3" fill="url(#gS)" stroke="#7c7c7c" stroke-width="1.4"/>
<text x="491.6" y="401.8" font-size="15" textLength="55.5" lengthAdjust="spacingAndGlyphs">S atoms</text>
<circle cx="611.3" cy="396.6" r="12.3" fill="url(#gX)" stroke="#7c7c7c" stroke-width="1.4"/>
<text x="634.4" y="401.8" font-size="15" textLength="238.6" lengthAdjust="spacingAndGlyphs">Non-metal atoms (O, S, Se, P or C)</text>
<path d="M40,553.4 L79.5,553.4 C79.3,560 79,565 78.2,569.9 C77,578 75,584 71.9,589.3 C69,595.5 65,601 59.5,605.8 C55,610 51,612.5 45.7,614.8 L39.9,616.6 Z" fill="url(#gBlob2)" stroke="#3a66c8" stroke-width="1.8"/>
<path d="M39.9,474.7 C49,475 58,479 60.9,486 L60.9,492 L39.9,492 Z" fill="#12a08c"/>
<path d="M39.9,540 L79.5,540 C79.6,546 79.2,550 78.2,554.7 C77.2,559.5 75.7,563 73.3,567.2 C70.8,571.5 68,575 63.7,578.2 C59.5,581.7 55,584.5 49.9,586.5 L39.9,590 Z" fill="url(#gBlob1)" stroke="#17a08d" stroke-width="1.8"/>
<clipPath id="cpLobe"><rect x="38" y="494.3" width="120" height="52"/></clipPath>
<path d="M39.9,488.8 C50,487.8 62,487.1 73.3,487.1 C84,487.2 95,488.6 105,490.5 C111,491.6 117,492.9 122.3,494.3 C127,495.6 131.5,497.5 135.5,499.5 C139.5,501.3 143,503.3 146,505.5 C150.5,508.7 154.1,511.5 154.1,514.2 C154.1,516.8 152.3,518.8 149.3,521.6 C145,525.3 139.5,528 132.7,530.6 C125,533.3 117,535.2 107.8,536.8 C97,538.8 85.5,540.2 73.3,541.2 C62,542.2 51,542.7 39.9,543 Z" fill="#fff"/>
<path d="M39.9,488.8 C50,487.8 62,487.1 73.3,487.1 C84,487.2 95,488.6 105,490.5 C111,491.6 117,492.9 122.3,494.3 C127,495.6 131.5,497.5 135.5,499.5 C139.5,501.3 143,503.3 146,505.5 C150.5,508.7 154.1,511.5 154.1,514.2 C154.1,516.8 152.3,518.8 149.3,521.6 C145,525.3 139.5,528 132.7,530.6 C125,533.3 117,535.2 107.8,536.8 C97,538.8 85.5,540.2 73.3,541.2 C62,542.2 51,542.7 39.9,543 Z" fill="url(#gLobe)" clip-path="url(#cpLobe)"/>
<path d="M39.9,488.8 C50,487.8 62,487.1 73.3,487.1 C84,487.2 95,488.6 105,490.5 C111,491.6 117,492.9 122.3,494.3 C127,495.6 131.5,497.5 135.5,499.5 C139.5,501.3 143,503.3 146,505.5 C150.5,508.7 154.1,511.5 154.1,514.2 C154.1,516.8 152.3,518.8 149.3,521.6 C145,525.3 139.5,528 132.7,530.6 C125,533.3 117,535.2 107.8,536.8 C97,538.8 85.5,540.2 73.3,541.2 C62,542.2 51,542.7 39.9,543" fill="none" stroke="#f20d0d" stroke-width="2.6"/>
<line x1="39.9" y1="494.3" x2="154.8" y2="494.3" stroke="#000" stroke-width="3.2" stroke-dasharray="6.2 2.8"/>
<line x1="38.1" y1="650.7" x2="38.1" y2="426.0" stroke="#3d4a63" stroke-width="3.8"/>
<polygon points="38.1,417.6 34.0,427.2 42.2,427.2" fill="#3d4a63"/>
<text x="25.2" y="471.0" font-size="14" text-anchor="middle" textLength="47.5" lengthAdjust="spacingAndGlyphs" transform="rotate(-90 25.2 471.0)">Energy</text>
<text x="55.4" y="431.0" font-size="15" textLength="56.3" lengthAdjust="spacingAndGlyphs">Catalyst</text>
<g transform="translate(113.50 466.60) scale(1.0509 1)"><text x="0.00" y="0.00" font-size="15">Ni 3</text><text x="26.68" y="0.00" font-size="15" font-style="italic">d</text></g>
<line x1="72.2" y1="558.9" x2="94.7" y2="558.9" stroke="#000" stroke-width="1.5"/>
<g transform="translate(100.90 560.30)"><text x="0.00" y="0.00" font-size="15" font-style="italic">ε</text><text x="6.59" y="2.20" font-size="11.5" font-style="italic">p</text></g>
<path d="M100.2,569.2 L113.4,582.4 L106.2,582.4 L106.2,603.8 L94.7,603.8 L94.7,582.4 L87.1,582.4 Z" fill="url(#gPinkUp)"/>
<g transform="translate(101.00 623.50) scale(1.0227 1)"><text x="-29.19" y="0.00" font-size="15">Anions </text><text x="20.84" y="0.00" font-size="15" font-style="italic">p</text></g>
<text x="101.0" y="641.8" font-size="15" text-anchor="middle" textLength="115.5" lengthAdjust="spacingAndGlyphs">(O, S, Se, P or C)</text>
<line x1="156.9" y1="558.6" x2="210.9" y2="558.6" stroke="#000" stroke-width="2"/>
<line x1="156.9" y1="564.9" x2="210.9" y2="564.9" stroke="#000" stroke-width="2"/>
<line x1="156.9" y1="571.0" x2="210.9" y2="571.0" stroke="#000" stroke-width="2"/>
<line x1="162.7" y1="552.2" x2="162.7" y2="581.9" stroke="#000" stroke-width="2"/><polygon points="162.7,539.5 155.7,552.7 169.7,552.7" fill="#000"/>
<line x1="179.7" y1="552.2" x2="179.7" y2="581.9" stroke="#000" stroke-width="2"/><polygon points="179.7,539.5 172.7,552.7 186.7,552.7" fill="#000"/>
<line x1="196.5" y1="552.2" x2="196.5" y2="581.9" stroke="#000" stroke-width="2"/><polygon points="196.5,539.5 189.5,552.7 203.5,552.7" fill="#000"/>
<line x1="171.1" y1="577.8" x2="171.1" y2="547.6" stroke="#000" stroke-width="2"/><polygon points="171.1,590.8 164.1,577.3 178.1,577.3" fill="#000"/>
<line x1="188.1" y1="577.8" x2="188.1" y2="547.6" stroke="#000" stroke-width="2"/><polygon points="188.1,590.8 181.1,577.3 195.1,577.3" fill="#000"/>
<line x1="204.1" y1="577.8" x2="204.1" y2="547.6" stroke="#000" stroke-width="2"/><polygon points="204.1,590.8 197.1,577.3 211.1,577.3" fill="#000"/>
<line x1="216.0" y1="566.7" x2="239.4" y2="485.4" stroke="#000" stroke-width="1.6" stroke-dasharray="1.7 1.7"/>
<line x1="216.0" y1="566.7" x2="239.4" y2="620.5" stroke="#000" stroke-width="1.6" stroke-dasharray="1.7 1.7"/>
<line x1="310.5" y1="578.1" x2="285.9" y2="485.4" stroke="#000" stroke-width="1.6" stroke-dasharray="1.7 1.7"/>
<line x1="310.5" y1="578.1" x2="285.9" y2="620.5" stroke="#000" stroke-width="1.6" stroke-dasharray="1.7 1.7"/>
<line x1="219.0" y1="566.8" x2="241.4" y2="566.8" stroke="#000" stroke-width="1.8" stroke-dasharray="11 1.2 1.5 1.2 1.5 1.2 1.5 1.2"/>
<line x1="239.4" y1="485.4" x2="285.9" y2="485.4" stroke="#000" stroke-width="2.6"/>
<line x1="239.4" y1="620.7" x2="285.9" y2="620.7" stroke="#000" stroke-width="4"/>
<rect x="241.2" y="560.8" width="46.8" height="7.6" fill="#000"/>
<line x1="247.8" y1="550.9" x2="247.8" y2="580.6" stroke="#000" stroke-width="2"/><polygon points="247.8,538.7 240.8,551.4 254.8,551.4" fill="#000"/>
<line x1="267.3" y1="550.9" x2="267.3" y2="580.6" stroke="#000" stroke-width="2"/><polygon points="267.3,538.7 260.3,551.4 274.3,551.4" fill="#000"/>
<line x1="257.7" y1="571.0" x2="257.7" y2="540.8" stroke="#000" stroke-width="2"/><polygon points="257.7,583.7 250.7,570.5 264.7,570.5" fill="#000"/>
<line x1="277.0" y1="571.0" x2="277.0" y2="540.8" stroke="#000" stroke-width="2"/><polygon points="277.0,583.7 270.0,570.5 284.0,570.5" fill="#000"/>
<line x1="257.7" y1="612.4" x2="257.7" y2="644.9" stroke="#000" stroke-width="2"/><polygon points="257.7,599.7 250.7,612.9 264.7,612.9" fill="#000"/>
<line x1="267.3" y1="636.2" x2="267.3" y2="603.5" stroke="#000" stroke-width="2"/><polygon points="267.3,649.2 260.3,635.7 274.3,635.7" fill="#000"/>
<line x1="310.5" y1="578.1" x2="362.8" y2="578.1" stroke="#000" stroke-width="2"/>
<g transform="translate(371.40 578.80) scale(0.9342 1)"><text x="0.00" y="0.00" font-size="15">2</text><text x="8.34" y="0.00" font-size="15" font-style="italic">s</text></g>
<text x="350.6" y="601.7" font-size="15" textLength="10.7" lengthAdjust="spacingAndGlyphs">Li</text>
<g transform="translate(311.00 484.50) scale(1.0578 1)"><text x="0.00" y="0.00" font-size="14">Li</text><text x="10.90" y="4.30" font-size="9.6">2</text><text x="16.24" y="0.00" font-size="14">S</text><text x="25.57" y="4.30" font-size="9.6">4</text></g>
<line x1="328.5" y1="510.8" x2="368.9" y2="492.5" stroke="#3a3a3a" stroke-width="1.4"/>
<line x1="328.5" y1="510.8" x2="353.1" y2="524.8" stroke="#3a3a3a" stroke-width="1.4"/>
<line x1="328.5" y1="510.8" x2="319.4" y2="546.8" stroke="#3a3a3a" stroke-width="1.4"/>
<line x1="319.4" y1="546.8" x2="372.7" y2="538.7" stroke="#3a3a3a" stroke-width="1.4"/>
<line x1="353.1" y1="524.8" x2="386.2" y2="506.2" stroke="#3a3a3a" stroke-width="1.4"/>
<line x1="368.9" y1="492.5" x2="372.7" y2="538.7" stroke="#3a3a3a" stroke-width="1.4"/>
<line x1="386.2" y1="506.2" x2="372.7" y2="538.7" stroke="#3a3a3a" stroke-width="1.4"/>
<line x1="368.9" y1="492.5" x2="386.2" y2="506.2" stroke="#3a3a3a" stroke-width="1.4"/>
<circle cx="368.9" cy="492.5" r="9.2" fill="url(#gS)" stroke="#7c7c7c" stroke-width="1.4"/>
<circle cx="386.2" cy="506.2" r="9.2" fill="url(#gS)" stroke="#7c7c7c" stroke-width="1.4"/>
<circle cx="353.1" cy="524.8" r="9.2" fill="url(#gS)" stroke="#7c7c7c" stroke-width="1.4"/>
<circle cx="319.4" cy="546.8" r="9.2" fill="url(#gS)" stroke="#7c7c7c" stroke-width="1.4"/>
<circle cx="328.5" cy="510.8" r="11.0" fill="url(#gLi)" stroke="#7c7c7c" stroke-width="1.4"/>
<circle cx="372.7" cy="538.7" r="11.0" fill="url(#gLi)" stroke="#7c7c7c" stroke-width="1.4"/>
<path d="M420.4,446.1 C408,438 390,434.5 370.3,439 Q362,441 356.4,443.4 L352.7,439.3 L343.6,459.8 L366.6,459.8 L363,454.4 C372,448.5 385,443.5 398,442 C408,441.5 414,443.5 420.4,446.1 Z" fill="#f9c5c8" stroke="#7d7d7d" stroke-width="1.4" stroke-linejoin="miter"/>
<rect x="433.2" y="440.3" width="305.2" height="72.7" fill="none" stroke="#3d4a63" stroke-width="1" stroke-dasharray="5.9 3.2"/>
<rect x="433.2" y="552.0" width="169.4" height="81.4" fill="none" stroke="#3d4a63" stroke-width="1" stroke-dasharray="5.9 3.2"/>
<path d="M433.2,475.4 L424,475.4 Q412.6,475.4 412.6,487 L412.6,706" fill="none" stroke="#3d4a63" stroke-width="1" stroke-dasharray="5.9 3.2"/>
<line x1="572.6" y1="633.4" x2="572.6" y2="706.0" stroke="#3d4a63" stroke-width="1" stroke-dasharray="5.9 3.2"/>
<g transform="translate(459.90 482.40)"><text x="0.00" y="0.00" font-size="18" font-style="italic">I</text></g>
<g transform="translate(464.80 486.50) scale(0.9361 1)"><text x="0.00" y="0.00" font-size="14.5">Band</text></g>
<g transform="translate(501.80 481.40)"><text x="0.00" y="0.00" font-size="12.5">=</text></g>
<line x1="525.9" y1="456.6" x2="525.9" y2="501.5" stroke="#000" stroke-width="1.8"/>
<line x1="596.8" y1="456.6" x2="596.8" y2="501.5" stroke="#000" stroke-width="1.8"/>
<line x1="638.8" y1="456.6" x2="638.8" y2="501.5" stroke="#000" stroke-width="1.8"/>
<line x1="707.1" y1="456.6" x2="707.1" y2="501.5" stroke="#000" stroke-width="1.8"/>
<g transform="translate(533.30 465.00) scale(1.1227 1)"><text x="0.00" y="0.00" font-size="18.5">ε</text><text x="8.25" y="2.50" font-size="14.5" font-style="italic">p</text><text x="16.31" y="-1.00" font-size="14"> – </text><text x="31.88" y="0.00" font-size="18.5">ε</text><text x="40.12" y="4.30" font-size="14.5" font-style="italic">d</text></g>
<line x1="537.2" y1="476.5" x2="584.1" y2="476.5" stroke="#000" stroke-width="1.6"/>
<g transform="translate(551.30 489.80) scale(1.1342 1)"><text x="0.00" y="0.00" font-size="18.5">ε</text><text x="8.25" y="2.50" font-size="14.5" font-style="italic">p</text></g>
<line x1="609.5" y1="475.2" x2="627.8" y2="475.2" stroke="#000" stroke-width="1.6"/>
<line x1="618.6" y1="465.8" x2="618.6" y2="483.9" stroke="#000" stroke-width="1.6"/>
<g transform="translate(646.00 465.00) scale(1.0998 1)"><text x="0.00" y="0.00" font-size="18.5">ε</text><text x="8.25" y="4.30" font-size="14.5" font-style="italic">s</text><text x="15.50" y="-1.00" font-size="14"> – </text><text x="31.06" y="0.00" font-size="18.5">ε</text><text x="39.31" y="2.50" font-size="14.5" font-style="italic">p</text></g>
<line x1="647.9" y1="476.5" x2="695.8" y2="476.5" stroke="#000" stroke-width="1.6"/>
<g transform="translate(664.10 489.80) scale(1.0583 1)"><text x="0.00" y="0.00" font-size="18.5">ε</text><text x="8.25" y="4.30" font-size="14.5" font-style="italic">s</text></g>
<g transform="translate(466.90 595.90)"><text x="0.00" y="0.00" font-size="17.6" font-style="italic">I</text></g>
<g transform="translate(472.00 600.30) scale(0.9305 1)"><text x="0.00" y="0.00" font-size="15.4">Latt</text></g>
<g transform="translate(501.70 594.80) scale(1.0009 1)"><text x="0.00" y="0.00" font-size="14.2">=</text></g>
<g transform="translate(536.10 579.70)"><text x="0.00" y="0.00" font-size="17.5" font-style="italic">r</text></g>
<g transform="translate(542.30 583.90) scale(0.9402 1)"><text x="0.00" y="0.00" font-size="14.4">Li–S</text></g>
<line x1="518.1" y1="589.7" x2="583.8" y2="589.7" stroke="#000" stroke-width="1.6"/>
<g transform="translate(531.90 604.70)"><text x="0.00" y="0.00" font-size="17.5" font-style="italic">r</text></g>
<g transform="translate(538.40 608.60) scale(1.0388 1)"><text x="0.00" y="0.00" font-size="14.4">catal</text></g>
<path d="M620.2,589.9 C635,596.5 652,598 668,594 Q673,592.5 677.9,589.9 L675.6,584 L698.4,587.5 L686.1,606.3 L683.2,601 C672,605 658,606.5 650,605.5 C640,604 630,597 620.2,589.9 Z" fill="#d4e4f4" stroke="#808080" stroke-width="1.3" stroke-linejoin="miter"/>
<line x1="739.6" y1="567.0" x2="963.4" y2="567.0" stroke="#666" stroke-width="1.7"/>
<line x1="721.2" y1="615.7" x2="944.4" y2="615.7" stroke="#666" stroke-width="1.7"/>
<line x1="740.0" y1="566.9" x2="721.3" y2="615.6" stroke="#111" stroke-width="1.2"/>
<line x1="797.3" y1="568.0" x2="777.5" y2="615.0" stroke="#111" stroke-width="1.2"/>
<line x1="850.6" y1="566.9" x2="832.9" y2="615.4" stroke="#111" stroke-width="1.2"/>
<line x1="908.7" y1="568.0" x2="889.2" y2="614.6" stroke="#111" stroke-width="1.2"/>
<line x1="963.4" y1="566.9" x2="944.4" y2="615.5" stroke="#111" stroke-width="1.2"/>
<circle cx="740.0" cy="566.9" r="16.1" fill="url(#gNi)" stroke="#7c7c7c" stroke-width="1.4"/>
<circle cx="797.3" cy="568.0" r="12.6" fill="url(#gX)" stroke="#7c7c7c" stroke-width="1.4"/>
<circle cx="850.6" cy="566.9" r="16.1" fill="url(#gNi)" stroke="#7c7c7c" stroke-width="1.4"/>
<circle cx="908.7" cy="568.0" r="12.6" fill="url(#gX)" stroke="#7c7c7c" stroke-width="1.4"/>
<circle cx="963.4" cy="566.9" r="16.1" fill="url(#gNi)" stroke="#7c7c7c" stroke-width="1.4"/>
<circle cx="721.3" cy="615.6" r="12.6" fill="url(#gX)" stroke="#7c7c7c" stroke-width="1.4"/>
<circle cx="777.5" cy="615.0" r="16.1" fill="url(#gNi)" stroke="#7c7c7c" stroke-width="1.4"/>
<circle cx="832.9" cy="615.4" r="12.6" fill="url(#gX)" stroke="#7c7c7c" stroke-width="1.4"/>
<circle cx="889.2" cy="614.6" r="16.1" fill="url(#gNi)" stroke="#7c7c7c" stroke-width="1.4"/>
<circle cx="944.4" cy="615.5" r="12.6" fill="url(#gX)" stroke="#7c7c7c" stroke-width="1.4"/>
<line x1="810.5" y1="532.5" x2="851.5" y2="510.1" stroke="#111" stroke-width="1.3"/>
<line x1="851.5" y1="510.1" x2="894.6" y2="532.0" stroke="#111" stroke-width="1.3"/>
<circle cx="810.5" cy="532.5" r="11.1" fill="url(#gLi)" stroke="#7c7c7c" stroke-width="1.4"/>
<circle cx="894.6" cy="532.0" r="11.1" fill="url(#gLi)" stroke="#7c7c7c" stroke-width="1.4"/>
<circle cx="851.5" cy="510.1" r="9.0" fill="url(#gS)" stroke="#7c7c7c" stroke-width="1.4"/>
<line x1="774.3" y1="462.0" x2="806.9" y2="521.1" stroke="#000" stroke-width="1.1" stroke-dasharray="1 1"/>
<line x1="812.4" y1="441.1" x2="846.1" y2="502.4" stroke="#000" stroke-width="1.1" stroke-dasharray="1 1"/>
<polygon points="792.6,492.4 798.1,486.7 797.3,490.0 800.5,491.3" fill="#3d4a63"/><polyline points="796.6,490.4 824.2,476.3" fill="none" stroke="#3d4a63" stroke-width="1.3"/><polygon points="828.2,474.3 822.7,480.0 823.5,476.7 820.3,475.4" fill="#3d4a63"/>
<g transform="translate(805.10 474.60) rotate(-27) scale(1.2118 1)"><text x="-11.31" y="0.00" font-size="14.5" font-style="italic">r</text><text x="-6.48" y="2.60" font-size="10">Li-S</text></g>
<path d="M750.4,528.6 L762.3,518.4 L762.3,523.5 L780.1,523.5 L780.1,533.9 L762.3,533.9 L762.3,539 Z" fill="url(#gPinkL)"/>
<path d="M947.2,528.6 L936.4,517.9 L936.4,523.5 L917.5,523.5 L917.5,533.9 L936.4,533.9 L936.4,539.6 Z" fill="url(#gPinkR)"/>
<line x1="797.5" y1="582.9" x2="797.5" y2="643.8" stroke="#000" stroke-width="1.1"/>
<line x1="851.5" y1="582.9" x2="851.5" y2="643.8" stroke="#000" stroke-width="1.1"/>
<polygon points="798.0,633.3 805.5,630.7 803.2,633.3 805.5,635.9" fill="#3d4a63"/><polyline points="802.5,633.3 846.5,633.3" fill="none" stroke="#3d4a63" stroke-width="1.3"/><polygon points="851.0,633.3 843.5,635.9 845.8,633.3 843.5,630.7" fill="#3d4a63"/>
<g transform="translate(824.30 650.30)"><text x="-13.59" y="0.00" font-size="15" font-style="italic">r</text><text x="-8.59" y="3.00" font-size="10.5">catal</text></g>
<text x="13.5" y="691.5" font-size="21" font-weight="bold" fill="#000" stroke="#000" stroke-width="0.5">c</text>
<path d="M60.6,715.7 C61.8,716.7 63.3,718.8 65.2,719.5 C67.1,720.2 65.4,721.5 67.8,718.2 C70.1,715.0 70.7,707.7 74.1,707.3 C77.5,707.0 77.8,713.7 80.5,717.0 C83.2,720.2 81.6,719.0 84.3,719.5 C87.0,720.0 86.2,718.6 90.6,718.8 C95.0,719.0 95.4,720.4 100.8,720.3 C106.2,720.1 106.2,718.2 110.9,718.2 C115.7,718.2 113.8,719.9 118.6,720.3 C123.3,720.7 123.3,719.4 128.7,719.8 C134.1,720.2 132.8,721.7 138.9,721.8 C145.0,721.9 146.8,721.1 151.6,720.3 C156.3,719.5 153.9,718.9 156.7,718.8 C159.4,718.6 158.3,720.2 161.7,719.8 C165.1,719.3 166.0,717.2 169.3,717.0 C172.7,716.7 172.4,718.8 174.4,718.8 C176.5,718.8 174.9,717.9 177.0,717.0 C179.0,716.0 179.3,715.4 182.0,715.2 C184.8,715.0 184.4,716.1 187.1,716.2 C189.8,716.4 189.5,715.5 192.2,715.7 C194.9,715.9 194.6,716.8 197.3,717.0 C200.0,717.2 200.3,715.6 202.4,716.5 C204.4,717.4 203.2,720.1 204.9,720.3 C206.6,720.4 206.7,717.7 208.7,717.0 C210.7,716.3 210.1,718.4 212.5,717.7 C214.9,717.1 214.6,716.0 217.6,714.4 C220.6,712.9 221.2,711.6 223.9,711.9 C226.7,712.2 225.4,714.0 227.8,715.7 C230.1,717.4 230.1,718.2 232.8,718.2 C235.5,718.2 235.2,715.2 237.9,715.7 C240.6,716.3 239.9,719.6 243.0,720.3 C246.0,721.0 246.0,718.4 249.3,718.2 C252.7,718.1 252.0,719.8 255.7,719.8 C259.4,719.8 259.9,718.1 263.3,718.2 C266.7,718.4 265.3,719.4 268.4,720.3 C271.4,721.2 270.7,721.4 274.7,721.5 C278.8,721.7 278.5,721.0 283.6,720.8 C288.7,720.6 291.1,720.8 293.8,720.8 L293.8,743.5 L60.6,743.5 Z" fill="url(#gC1)"/>
<path d="M60.6,715.7 C61.8,716.7 63.3,718.8 65.2,719.5 C67.1,720.2 65.4,721.5 67.8,718.2 C70.1,715.0 70.7,707.7 74.1,707.3 C77.5,707.0 77.8,713.7 80.5,717.0 C83.2,720.2 81.6,719.0 84.3,719.5 C87.0,720.0 86.2,718.6 90.6,718.8 C95.0,719.0 95.4,720.4 100.8,720.3 C106.2,720.1 106.2,718.2 110.9,718.2 C115.7,718.2 113.8,719.9 118.6,720.3 C123.3,720.7 123.3,719.4 128.7,719.8 C134.1,720.2 132.8,721.7 138.9,721.8 C145.0,721.9 146.8,721.1 151.6,720.3 C156.3,719.5 153.9,718.9 156.7,718.8 C159.4,718.6 158.3,720.2 161.7,719.8 C165.1,719.3 166.0,717.2 169.3,717.0 C172.7,716.7 172.4,718.8 174.4,718.8 C176.5,718.8 174.9,717.9 177.0,717.0 C179.0,716.0 179.3,715.4 182.0,715.2 C184.8,715.0 184.4,716.1 187.1,716.2 C189.8,716.4 189.5,715.5 192.2,715.7 C194.9,715.9 194.6,716.8 197.3,717.0 C200.0,717.2 200.3,715.6 202.4,716.5 C204.4,717.4 203.2,720.1 204.9,720.3 C206.6,720.4 206.7,717.7 208.7,717.0 C210.7,716.3 210.1,718.4 212.5,717.7 C214.9,717.1 214.6,716.0 217.6,714.4 C220.6,712.9 221.2,711.6 223.9,711.9 C226.7,712.2 225.4,714.0 227.8,715.7 C230.1,717.4 230.1,718.2 232.8,718.2 C235.5,718.2 235.2,715.2 237.9,715.7 C240.6,716.3 239.9,719.6 243.0,720.3 C246.0,721.0 246.0,718.4 249.3,718.2 C252.7,718.1 252.0,719.8 255.7,719.8 C259.4,719.8 259.9,718.1 263.3,718.2 C266.7,718.4 265.3,719.4 268.4,720.3 C271.4,721.2 270.7,721.4 274.7,721.5 C278.8,721.7 278.5,721.0 283.6,720.8 C288.7,720.6 291.1,720.8 293.8,720.8" fill="none" stroke="#111" stroke-width="1.5" stroke-linejoin="round"/>
<path d="M60.6,775.4 C61.5,775.0 62.4,775.5 64.0,774.1 C65.5,772.8 65.2,770.6 66.5,770.3 C67.9,770.0 67.0,774.0 69.0,772.8 C71.1,771.7 71.8,766.3 74.1,766.0 C76.5,765.6 75.6,768.9 77.9,771.6 C80.3,774.3 80.3,778.0 83.0,776.1 C85.7,774.3 85.7,765.6 88.1,764.7 C90.5,763.8 89.5,771.7 91.9,772.8 C94.3,774.0 94.6,769.0 97.0,769.0 C99.3,769.0 98.4,771.2 100.8,772.8 C103.2,774.5 102.5,774.2 105.9,775.4 C109.3,776.5 108.7,776.8 113.5,777.2 C118.2,777.5 118.2,776.4 123.6,776.7 C129.1,776.9 127.7,777.9 133.8,777.9 C139.9,777.9 141.8,778.0 146.5,776.7 C151.2,775.3 149.2,772.2 151.6,772.8 C153.9,773.5 152.7,778.2 155.4,779.2 C158.1,780.2 158.7,778.1 161.7,776.7 C164.8,775.2 164.4,774.1 166.8,773.6 C169.2,773.1 168.6,775.2 170.6,774.6 C172.7,774.1 172.7,771.4 174.4,771.6 C176.1,771.8 174.9,774.8 177.0,775.4 C179.0,775.9 179.3,773.6 182.0,773.6 C184.8,773.6 184.4,775.6 187.1,775.4 C189.8,775.2 189.8,773.9 192.2,772.8 C194.6,771.8 194.0,771.1 196.0,771.6 C198.0,772.0 197.5,774.3 199.8,774.6 C202.2,775.0 202.2,774.0 204.9,772.8 C207.6,771.7 207.6,770.8 210.0,770.3 C212.3,769.8 212.1,770.1 213.8,771.1 C215.5,772.1 214.8,771.8 216.3,774.1 C217.9,776.4 217.9,780.4 219.6,779.7 C221.3,779.0 221.1,771.7 222.7,771.6 C224.3,771.4 223.0,777.7 225.7,779.2 C228.4,780.7 228.9,778.0 232.8,777.2 C236.8,776.3 237.1,776.6 240.5,776.1 C243.8,775.7 242.1,774.9 245.5,775.4 C248.9,775.9 249.1,776.9 253.1,777.9 C257.2,778.9 256.7,779.5 260.8,779.2 C264.8,778.9 264.7,776.7 268.4,776.7 C272.1,776.7 270.7,778.7 274.7,779.2 C278.8,779.7 278.5,779.0 283.6,778.7 C288.7,778.3 291.1,778.1 293.8,777.9 L293.8,793.4 L60.6,793.4 Z" fill="url(#gC2)"/>
<path d="M60.6,775.4 C61.5,775.0 62.4,775.5 64.0,774.1 C65.5,772.8 65.2,770.6 66.5,770.3 C67.9,770.0 67.0,774.0 69.0,772.8 C71.1,771.7 71.8,766.3 74.1,766.0 C76.5,765.6 75.6,768.9 77.9,771.6 C80.3,774.3 80.3,778.0 83.0,776.1 C85.7,774.3 85.7,765.6 88.1,764.7 C90.5,763.8 89.5,771.7 91.9,772.8 C94.3,774.0 94.6,769.0 97.0,769.0 C99.3,769.0 98.4,771.2 100.8,772.8 C103.2,774.5 102.5,774.2 105.9,775.4 C109.3,776.5 108.7,776.8 113.5,777.2 C118.2,777.5 118.2,776.4 123.6,776.7 C129.1,776.9 127.7,777.9 133.8,777.9 C139.9,777.9 141.8,778.0 146.5,776.7 C151.2,775.3 149.2,772.2 151.6,772.8 C153.9,773.5 152.7,778.2 155.4,779.2 C158.1,780.2 158.7,778.1 161.7,776.7 C164.8,775.2 164.4,774.1 166.8,773.6 C169.2,773.1 168.6,775.2 170.6,774.6 C172.7,774.1 172.7,771.4 174.4,771.6 C176.1,771.8 174.9,774.8 177.0,775.4 C179.0,775.9 179.3,773.6 182.0,773.6 C184.8,773.6 184.4,775.6 187.1,775.4 C189.8,775.2 189.8,773.9 192.2,772.8 C194.6,771.8 194.0,771.1 196.0,771.6 C198.0,772.0 197.5,774.3 199.8,774.6 C202.2,775.0 202.2,774.0 204.9,772.8 C207.6,771.7 207.6,770.8 210.0,770.3 C212.3,769.8 212.1,770.1 213.8,771.1 C215.5,772.1 214.8,771.8 216.3,774.1 C217.9,776.4 217.9,780.4 219.6,779.7 C221.3,779.0 221.1,771.7 222.7,771.6 C224.3,771.4 223.0,777.7 225.7,779.2 C228.4,780.7 228.9,778.0 232.8,777.2 C236.8,776.3 237.1,776.6 240.5,776.1 C243.8,775.7 242.1,774.9 245.5,775.4 C248.9,775.9 249.1,776.9 253.1,777.9 C257.2,778.9 256.7,779.5 260.8,779.2 C264.8,778.9 264.7,776.7 268.4,776.7 C272.1,776.7 270.7,778.7 274.7,779.2 C278.8,779.7 278.5,779.0 283.6,778.7 C288.7,778.3 291.1,778.1 293.8,777.9" fill="none" stroke="#111" stroke-width="1.5" stroke-linejoin="round"/>
<path d="M60.6,835.2 C63.2,835.5 65.0,835.8 70.3,836.2 C75.6,836.6 75.1,836.7 80.5,836.7 C85.9,836.7 86.7,836.8 90.6,836.2 C94.6,835.6 93.3,837.6 95.2,834.4 C97.1,831.3 96.3,827.8 97.7,824.3 C99.2,820.8 99.3,821.2 100.8,821.2 C102.3,821.2 102.1,822.3 103.3,824.3 C104.5,826.2 103.9,827.0 105.4,828.6 C106.8,830.2 107.1,830.9 108.9,830.1 C110.7,829.3 110.3,826.6 112.2,825.6 C114.1,824.5 114.0,826.7 116.0,826.1 C118.1,825.4 117.9,824.2 119.8,823.0 C121.7,821.9 121.6,821.2 123.1,821.7 C124.7,822.3 124.0,824.8 125.7,825.0 C127.3,825.2 127.4,824.3 129.2,822.5 C131.1,820.7 130.8,818.8 132.5,818.4 C134.3,818.0 134.0,820.6 135.8,821.0 C137.7,821.4 137.2,819.6 139.4,820.0 C141.6,820.4 141.7,822.1 144.0,822.5 C146.2,822.9 145.7,821.5 147.8,821.5 C149.8,821.5 149.9,822.4 151.6,822.5 C153.3,822.6 152.4,820.3 154.1,821.7 C155.8,823.2 155.9,824.9 157.9,828.1 C160.0,831.3 159.7,831.3 161.7,833.7 C163.8,836.0 161.5,836.0 165.5,837.0 C169.6,837.9 167.1,837.2 177.0,837.2 C186.8,837.3 190.2,837.3 202.4,837.2 C214.6,837.2 214.6,837.2 222.7,837.0 C230.8,836.8 228.8,836.8 232.8,836.5 C236.9,836.1 235.2,835.7 237.9,835.7 C240.6,835.7 240.3,836.3 243.0,836.5 C245.7,836.6 245.4,836.6 248.1,836.2 C250.8,835.9 249.8,835.2 253.1,835.2 C256.5,835.2 256.7,836.2 260.8,836.2 C264.8,836.2 265.0,835.2 268.4,835.2 C271.8,835.2 270.8,836.4 273.5,836.2 C276.2,836.0 275.8,834.4 278.5,834.4 C281.3,834.4 279.6,835.7 283.6,836.2 C287.7,836.8 291.1,836.4 293.8,836.5 L293.8,845.4 L60.6,845.4 Z" fill="url(#gC3)"/>
<path d="M60.6,835.2 C63.2,835.5 65.0,835.8 70.3,836.2 C75.6,836.6 75.1,836.7 80.5,836.7 C85.9,836.7 86.7,836.8 90.6,836.2 C94.6,835.6 93.3,837.6 95.2,834.4 C97.1,831.3 96.3,827.8 97.7,824.3 C99.2,820.8 99.3,821.2 100.8,821.2 C102.3,821.2 102.1,822.3 103.3,824.3 C104.5,826.2 103.9,827.0 105.4,828.6 C106.8,830.2 107.1,830.9 108.9,830.1 C110.7,829.3 110.3,826.6 112.2,825.6 C114.1,824.5 114.0,826.7 116.0,826.1 C118.1,825.4 117.9,824.2 119.8,823.0 C121.7,821.9 121.6,821.2 123.1,821.7 C124.7,822.3 124.0,824.8 125.7,825.0 C127.3,825.2 127.4,824.3 129.2,822.5 C131.1,820.7 130.8,818.8 132.5,818.4 C134.3,818.0 134.0,820.6 135.8,821.0 C137.7,821.4 137.2,819.6 139.4,820.0 C141.6,820.4 141.7,822.1 144.0,822.5 C146.2,822.9 145.7,821.5 147.8,821.5 C149.8,821.5 149.9,822.4 151.6,822.5 C153.3,822.6 152.4,820.3 154.1,821.7 C155.8,823.2 155.9,824.9 157.9,828.1 C160.0,831.3 159.7,831.3 161.7,833.7 C163.8,836.0 161.5,836.0 165.5,837.0 C169.6,837.9 167.1,837.2 177.0,837.2 C186.8,837.3 190.2,837.3 202.4,837.2 C214.6,837.2 214.6,837.2 222.7,837.0 C230.8,836.8 228.8,836.8 232.8,836.5 C236.9,836.1 235.2,835.7 237.9,835.7 C240.6,835.7 240.3,836.3 243.0,836.5 C245.7,836.6 245.4,836.6 248.1,836.2 C250.8,835.9 249.8,835.2 253.1,835.2 C256.5,835.2 256.7,836.2 260.8,836.2 C264.8,836.2 265.0,835.2 268.4,835.2 C271.8,835.2 270.8,836.4 273.5,836.2 C276.2,836.0 275.8,834.4 278.5,834.4 C281.3,834.4 279.6,835.7 283.6,836.2 C287.7,836.8 291.1,836.4 293.8,836.5" fill="none" stroke="#111" stroke-width="1.5" stroke-linejoin="round"/>
<path d="M60.6,878.9 C63.2,878.5 65.7,878.3 70.3,877.6 C74.9,876.9 73.9,877.0 77.9,876.3 C82.0,875.7 81.5,876.1 85.6,875.1 C89.6,874.1 89.4,873.5 93.2,872.5 C96.9,871.5 96.5,871.3 99.5,871.3 C102.6,871.3 101.5,872.4 104.6,872.5 C107.6,872.7 107.6,872.2 110.9,871.8 C114.3,871.3 113.9,871.7 117.3,870.8 C120.7,869.8 120.6,869.2 123.6,868.2 C126.7,867.2 126.4,866.9 128.7,866.9 C131.1,866.9 130.5,867.1 132.5,868.2 C134.6,869.4 134.0,869.8 136.3,871.3 C138.7,872.7 139.4,872.6 141.4,873.8 C143.4,875.0 142.3,876.2 144.0,875.8 C145.6,875.5 145.4,873.9 147.8,872.5 C150.1,871.2 150.5,871.0 152.8,870.8 C155.2,870.5 154.3,872.2 156.7,871.8 C159.0,871.4 158.7,870.4 161.7,869.2 C164.8,868.1 165.4,867.2 168.1,867.5 C170.8,867.7 169.9,868.0 171.9,870.0 C173.9,872.0 173.7,872.6 175.7,875.1 C177.7,877.6 177.5,877.8 179.5,879.4 C181.5,880.9 180.9,880.5 183.3,880.9 C185.7,881.3 185.7,881.6 188.4,880.9 C191.1,880.2 190.8,880.3 193.5,878.4 C196.2,876.5 196.2,875.8 198.6,873.8 C200.9,871.8 200.3,871.8 202.4,870.8 C204.4,869.7 204.1,869.7 206.2,870.0 C208.2,870.3 207.6,870.2 210.0,871.8 C212.3,873.3 212.3,873.8 215.1,875.8 C217.8,877.9 216.8,878.2 220.1,879.4 C223.5,880.6 224.4,880.4 227.8,880.4 C231.1,880.4 229.8,880.3 232.8,879.4 C235.9,878.5 235.8,877.8 239.2,877.1 C242.6,876.4 241.8,876.4 245.5,876.8 C249.3,877.3 248.4,878.1 253.1,878.9 C257.9,879.7 257.9,879.8 263.3,879.9 C268.7,880.0 268.0,879.7 273.5,879.4 C278.9,879.1 278.2,878.9 283.6,878.9 C289.0,878.9 291.1,879.3 293.8,879.4 L293.8,891.6 L60.6,891.6 Z" fill="url(#gC4)"/>
<path d="M60.6,878.9 C63.2,878.5 65.7,878.3 70.3,877.6 C74.9,876.9 73.9,877.0 77.9,876.3 C82.0,875.7 81.5,876.1 85.6,875.1 C89.6,874.1 89.4,873.5 93.2,872.5 C96.9,871.5 96.5,871.3 99.5,871.3 C102.6,871.3 101.5,872.4 104.6,872.5 C107.6,872.7 107.6,872.2 110.9,871.8 C114.3,871.3 113.9,871.7 117.3,870.8 C120.7,869.8 120.6,869.2 123.6,868.2 C126.7,867.2 126.4,866.9 128.7,866.9 C131.1,866.9 130.5,867.1 132.5,868.2 C134.6,869.4 134.0,869.8 136.3,871.3 C138.7,872.7 139.4,872.6 141.4,873.8 C143.4,875.0 142.3,876.2 144.0,875.8 C145.6,875.5 145.4,873.9 147.8,872.5 C150.1,871.2 150.5,871.0 152.8,870.8 C155.2,870.5 154.3,872.2 156.7,871.8 C159.0,871.4 158.7,870.4 161.7,869.2 C164.8,868.1 165.4,867.2 168.1,867.5 C170.8,867.7 169.9,868.0 171.9,870.0 C173.9,872.0 173.7,872.6 175.7,875.1 C177.7,877.6 177.5,877.8 179.5,879.4 C181.5,880.9 180.9,880.5 183.3,880.9 C185.7,881.3 185.7,881.6 188.4,880.9 C191.1,880.2 190.8,880.3 193.5,878.4 C196.2,876.5 196.2,875.8 198.6,873.8 C200.9,871.8 200.3,871.8 202.4,870.8 C204.4,869.7 204.1,869.7 206.2,870.0 C208.2,870.3 207.6,870.2 210.0,871.8 C212.3,873.3 212.3,873.8 215.1,875.8 C217.8,877.9 216.8,878.2 220.1,879.4 C223.5,880.6 224.4,880.4 227.8,880.4 C231.1,880.4 229.8,880.3 232.8,879.4 C235.9,878.5 235.8,877.8 239.2,877.1 C242.6,876.4 241.8,876.4 245.5,876.8 C249.3,877.3 248.4,878.1 253.1,878.9 C257.9,879.7 257.9,879.8 263.3,879.9 C268.7,880.0 268.0,879.7 273.5,879.4 C278.9,879.1 278.2,878.9 283.6,878.9 C289.0,878.9 291.1,879.3 293.8,879.4" fill="none" stroke="#111" stroke-width="1.5" stroke-linejoin="round"/>
<path d="M60.6,927.6 C62.5,927.2 63.8,927.0 67.8,925.9 C71.7,924.7 71.3,924.7 75.4,923.3 C79.5,922.0 79.6,921.1 83.0,920.8 C86.4,920.4 85.0,921.0 88.1,922.0 C91.1,923.1 91.4,923.6 94.4,924.6 C97.5,925.6 96.8,926.0 99.5,925.9 C102.2,925.7 101.5,924.1 104.6,924.1 C107.6,924.1 107.6,925.2 110.9,925.9 C114.3,926.5 113.9,927.0 117.3,926.6 C120.7,926.3 119.9,925.5 123.6,924.6 C127.4,923.6 127.5,922.9 131.3,923.1 C135.0,923.2 133.9,924.0 137.6,925.1 C141.3,926.2 141.2,927.3 145.2,927.1 C149.3,927.0 149.1,924.7 152.8,924.6 C156.6,924.5 155.8,925.4 159.2,926.6 C162.6,927.8 162.2,927.8 165.5,929.2 C168.9,930.5 168.8,931.0 171.9,931.7 C174.9,932.4 173.6,931.4 177.0,931.7 C180.4,932.0 181.2,933.4 184.6,932.7 C188.0,932.0 187.0,931.0 189.7,929.2 C192.4,927.3 192.0,927.1 194.7,925.9 C197.5,924.6 197.1,924.2 199.8,924.6 C202.5,924.9 202.2,925.4 204.9,927.1 C207.6,928.8 207.3,930.9 210.0,930.9 C212.7,930.9 212.3,929.0 215.1,927.1 C217.8,925.3 217.4,925.6 220.1,924.1 C222.8,922.6 222.5,921.4 225.2,921.5 C227.9,921.7 227.6,923.1 230.3,924.6 C233.0,926.1 232.7,925.4 235.4,927.1 C238.1,928.8 238.1,929.4 240.5,930.9 C242.8,932.4 241.6,932.7 244.3,932.7 C247.0,932.7 246.2,931.6 250.6,930.9 C255.0,930.3 254.7,930.5 260.8,930.2 C266.9,929.8 267.4,929.7 273.5,929.7 C279.6,929.7 278.2,930.2 283.6,930.2 C289.0,930.2 291.1,929.8 293.8,929.7 L293.8,942 L60.6,942 Z" fill="url(#gC5)"/>
<path d="M60.6,927.6 C62.5,927.2 63.8,927.0 67.8,925.9 C71.7,924.7 71.3,924.7 75.4,923.3 C79.5,922.0 79.6,921.1 83.0,920.8 C86.4,920.4 85.0,921.0 88.1,922.0 C91.1,923.1 91.4,923.6 94.4,924.6 C97.5,925.6 96.8,926.0 99.5,925.9 C102.2,925.7 101.5,924.1 104.6,924.1 C107.6,924.1 107.6,925.2 110.9,925.9 C114.3,926.5 113.9,927.0 117.3,926.6 C120.7,926.3 119.9,925.5 123.6,924.6 C127.4,923.6 127.5,922.9 131.3,923.1 C135.0,923.2 133.9,924.0 137.6,925.1 C141.3,926.2 141.2,927.3 145.2,927.1 C149.3,927.0 149.1,924.7 152.8,924.6 C156.6,924.5 155.8,925.4 159.2,926.6 C162.6,927.8 162.2,927.8 165.5,929.2 C168.9,930.5 168.8,931.0 171.9,931.7 C174.9,932.4 173.6,931.4 177.0,931.7 C180.4,932.0 181.2,933.4 184.6,932.7 C188.0,932.0 187.0,931.0 189.7,929.2 C192.4,927.3 192.0,927.1 194.7,925.9 C197.5,924.6 197.1,924.2 199.8,924.6 C202.5,924.9 202.2,925.4 204.9,927.1 C207.6,928.8 207.3,930.9 210.0,930.9 C212.7,930.9 212.3,929.0 215.1,927.1 C217.8,925.3 217.4,925.6 220.1,924.1 C222.8,922.6 222.5,921.4 225.2,921.5 C227.9,921.7 227.6,923.1 230.3,924.6 C233.0,926.1 232.7,925.4 235.4,927.1 C238.1,928.8 238.1,929.4 240.5,930.9 C242.8,932.4 241.6,932.7 244.3,932.7 C247.0,932.7 246.2,931.6 250.6,930.9 C255.0,930.3 254.7,930.5 260.8,930.2 C266.9,929.8 267.4,929.7 273.5,929.7 C279.6,929.7 278.2,930.2 283.6,930.2 C289.0,930.2 291.1,929.8 293.8,929.7" fill="none" stroke="#111" stroke-width="1.5" stroke-linejoin="round"/>
<line x1="177.0" y1="688.6" x2="177.0" y2="942.0" stroke="#777" stroke-width="1.5" stroke-dasharray="6.9 3.3"/>
<line x1="60.6" y1="743.5" x2="293.8" y2="743.5" stroke="#000" stroke-width="1.1"/>
<line x1="60.6" y1="793.4" x2="293.8" y2="793.4" stroke="#000" stroke-width="1.1"/>
<line x1="60.6" y1="845.4" x2="293.8" y2="845.4" stroke="#000" stroke-width="1.1"/>
<line x1="60.6" y1="891.6" x2="293.8" y2="891.6" stroke="#000" stroke-width="1.1"/>
<rect x="60.6" y="686.6" width="233.2" height="255.4" fill="none" stroke="#000" stroke-width="1.2"/>
<line x1="60.6" y1="942.0" x2="60.6" y2="946.2" stroke="#000" stroke-width="1.1"/>
<line x1="80.0" y1="942.0" x2="80.0" y2="944.4" stroke="#000" stroke-width="1.1"/>
<line x1="99.5" y1="942.0" x2="99.5" y2="946.2" stroke="#000" stroke-width="1.1"/>
<line x1="118.9" y1="942.0" x2="118.9" y2="944.4" stroke="#000" stroke-width="1.1"/>
<line x1="138.3" y1="942.0" x2="138.3" y2="946.2" stroke="#000" stroke-width="1.1"/>
<line x1="157.8" y1="942.0" x2="157.8" y2="944.4" stroke="#000" stroke-width="1.1"/>
<line x1="177.2" y1="942.0" x2="177.2" y2="946.2" stroke="#000" stroke-width="1.1"/>
<line x1="196.6" y1="942.0" x2="196.6" y2="944.4" stroke="#000" stroke-width="1.1"/>
<line x1="216.1" y1="942.0" x2="216.1" y2="946.2" stroke="#000" stroke-width="1.1"/>
<line x1="235.5" y1="942.0" x2="235.5" y2="944.4" stroke="#000" stroke-width="1.1"/>
<line x1="254.9" y1="942.0" x2="254.9" y2="946.2" stroke="#000" stroke-width="1.1"/>
<line x1="274.4" y1="942.0" x2="274.4" y2="944.4" stroke="#000" stroke-width="1.1"/>
<line x1="293.8" y1="942.0" x2="293.8" y2="946.2" stroke="#000" stroke-width="1.1"/>
<text x="60.6" y="959.6" font-size="13" text-anchor="middle" textLength="14.6" lengthAdjust="spacingAndGlyphs">–6</text>
<text x="99.5" y="959.6" font-size="13" text-anchor="middle" textLength="14.6" lengthAdjust="spacingAndGlyphs">–4</text>
<text x="138.3" y="959.6" font-size="13" text-anchor="middle" textLength="14.6" lengthAdjust="spacingAndGlyphs">–2</text>
<text x="177.2" y="959.6" font-size="13" text-anchor="middle" textLength="7.4" lengthAdjust="spacingAndGlyphs">0</text>
<text x="216.1" y="959.6" font-size="13" text-anchor="middle" textLength="7.4" lengthAdjust="spacingAndGlyphs">2</text>
<text x="254.9" y="959.6" font-size="13" text-anchor="middle" textLength="7.4" lengthAdjust="spacingAndGlyphs">4</text>
<text x="293.8" y="959.6" font-size="13" text-anchor="middle" textLength="7.4" lengthAdjust="spacingAndGlyphs">6</text>
<text x="177.0" y="983.7" font-size="15" text-anchor="middle" textLength="80.7" lengthAdjust="spacingAndGlyphs">Energy (eV)</text>
<text x="50.3" y="813.3" font-size="15" text-anchor="middle" textLength="79.7" lengthAdjust="spacingAndGlyphs" transform="rotate(-90 50.3 813.3)">PDOS (a.u.)</text>
<g transform="translate(171.00 680.00)"><text x="0.00" y="0.00" font-size="15" font-style="italic">E</text><text x="10.00" y="3.40" font-size="10">F</text></g>
<text x="63.1" y="701.5" font-size="15" textLength="59.1" lengthAdjust="spacingAndGlyphs">0.751 eV</text>
<text x="63.1" y="758.6" font-size="15" textLength="72.0" lengthAdjust="spacingAndGlyphs">–0.028 eV</text>
<text x="63.1" y="815.4" font-size="15" textLength="64.5" lengthAdjust="spacingAndGlyphs">–1.018 eV</text>
<text x="63.1" y="861.5" font-size="15" textLength="63.5" lengthAdjust="spacingAndGlyphs">–1.391 eV</text>
<text x="63.1" y="912.3" font-size="15" textLength="68.5" lengthAdjust="spacingAndGlyphs">–2.207 eV</text>
<g transform="translate(287.50 708.10)"><text x="-30.84" y="0.00" font-size="15">Ni</text><text x="-16.67" y="3.50" font-size="10.5">3</text><text x="-10.83" y="0.00" font-size="15">C</text></g>
<g transform="translate(285.50 764.60)"><text x="-30.01" y="0.00" font-size="15">Ni</text><text x="-15.84" y="3.50" font-size="10.5">2</text><text x="-10.00" y="0.00" font-size="15">P</text></g>
<text x="285.5" y="818.7" font-size="15" text-anchor="end" textLength="26.6" lengthAdjust="spacingAndGlyphs">NiO</text>
<g transform="translate(286.00 865.80)"><text x="-38.35" y="0.00" font-size="15">NiSe</text><text x="-5.84" y="3.50" font-size="10.5">2</text></g>
<g transform="translate(286.00 917.30)"><text x="-30.01" y="0.00" font-size="15">NiS</text><text x="-5.84" y="3.50" font-size="10.5">2</text></g>
<text x="13.5" y="1011.5" font-size="21" font-weight="bold" fill="#000" stroke="#000" stroke-width="0.5">d</text>
<circle cx="83.0" cy="1143.7" r="5.5" fill="#d3d7f7" stroke="#3b6fb5" stroke-width="1.7"/>
<circle cx="124.2" cy="1147.7" r="5.5" fill="#d3d7f7" stroke="#3b6fb5" stroke-width="1.7"/>
<circle cx="165.0" cy="1085.6" r="5.5" fill="#d3d7f7" stroke="#3b6fb5" stroke-width="1.7"/>
<circle cx="206.2" cy="1062.3" r="5.5" fill="#d3d7f7" stroke="#3b6fb5" stroke-width="1.7"/>
<circle cx="247.3" cy="1022.5" r="5.5" fill="#d3d7f7" stroke="#3b6fb5" stroke-width="1.7"/>
<polygon points="83.0,1011.6 89.6,1018.2 83.0,1024.8 76.4,1018.2" fill="#f8c9c9" stroke="#c5293a" stroke-width="1.7"/>
<polygon points="124.2,1045.8 130.8,1052.4 124.2,1059.0 117.6,1052.4" fill="#f8c9c9" stroke="#c5293a" stroke-width="1.7"/>
<polygon points="165.0,1090.3 171.6,1096.9 165.0,1103.5 158.4,1096.9" fill="#f8c9c9" stroke="#c5293a" stroke-width="1.7"/>
<polygon points="206.2,1096.9 212.8,1103.5 206.2,1110.1 199.6,1103.5" fill="#f8c9c9" stroke="#c5293a" stroke-width="1.7"/>
<polygon points="247.3,1132.8 253.9,1139.4 247.3,1146.0 240.7,1139.4" fill="#f8c9c9" stroke="#c5293a" stroke-width="1.7"/>
<line x1="93.0" y1="1151.0" x2="249.7" y2="1026.5" stroke="#3b6fb5" stroke-width="2.4"/>
<line x1="83.0" y1="1017.2" x2="249.7" y2="1141.0" stroke="#c5293a" stroke-width="2.4"/>
<rect x="63.1" y="1006.4" width="204.5" height="153.9" fill="none" stroke="#000" stroke-width="1.2"/>
<line x1="57.6" y1="1015.9" x2="63.1" y2="1015.9" stroke="#000" stroke-width="1.1"/>
<g transform="translate(51.40 1020.40) scale(1.0600 1)"><text x="-7.23" y="0.00" font-size="13">8</text></g>
<line x1="57.6" y1="1054.4" x2="63.1" y2="1054.4" stroke="#000" stroke-width="1.1"/>
<g transform="translate(51.40 1058.90) scale(1.0600 1)"><text x="-7.23" y="0.00" font-size="13">6</text></g>
<line x1="57.6" y1="1093.2" x2="63.1" y2="1093.2" stroke="#000" stroke-width="1.1"/>
<g transform="translate(51.40 1097.70) scale(1.0600 1)"><text x="-7.23" y="0.00" font-size="13">4</text></g>
<line x1="57.6" y1="1131.4" x2="63.1" y2="1131.4" stroke="#000" stroke-width="1.1"/>
<g transform="translate(51.40 1135.90) scale(1.0600 1)"><text x="-7.23" y="0.00" font-size="13">2</text></g>
<line x1="60.6" y1="1035.2" x2="63.1" y2="1035.2" stroke="#000" stroke-width="1"/>
<line x1="60.6" y1="1073.8" x2="63.1" y2="1073.8" stroke="#000" stroke-width="1"/>
<line x1="60.6" y1="1112.3" x2="63.1" y2="1112.3" stroke="#000" stroke-width="1"/>
<line x1="60.6" y1="1150.7" x2="63.1" y2="1150.7" stroke="#000" stroke-width="1"/>
<line x1="267.6" y1="1020.5" x2="272.9" y2="1020.5" stroke="#000" stroke-width="1.1"/>
<g transform="translate(278.40 1024.90) scale(1.0600 1)"><text x="0.00" y="-1.10" font-size="10.66">–</text><text x="5.93" y="0.00" font-size="13">6</text></g>
<line x1="267.6" y1="1076.3" x2="272.9" y2="1076.3" stroke="#000" stroke-width="1.1"/>
<g transform="translate(278.40 1080.70) scale(1.0600 1)"><text x="0.00" y="-1.10" font-size="10.66">–</text><text x="5.93" y="0.00" font-size="13">4</text></g>
<line x1="267.6" y1="1132.1" x2="272.9" y2="1132.1" stroke="#000" stroke-width="1.1"/>
<g transform="translate(278.40 1136.50) scale(1.0600 1)"><text x="0.00" y="-1.10" font-size="10.66">–</text><text x="5.93" y="0.00" font-size="13">2</text></g>
<line x1="267.6" y1="1048.4" x2="271.0" y2="1048.4" stroke="#000" stroke-width="1.1"/>
<line x1="267.6" y1="1104.4" x2="271.0" y2="1104.4" stroke="#000" stroke-width="1.1"/>
<line x1="83.0" y1="1160.3" x2="83.0" y2="1165.3" stroke="#000" stroke-width="1"/>
<line x1="124.2" y1="1160.3" x2="124.2" y2="1165.3" stroke="#000" stroke-width="1"/>
<line x1="165.3" y1="1160.3" x2="165.3" y2="1165.3" stroke="#000" stroke-width="1"/>
<line x1="206.2" y1="1160.3" x2="206.2" y2="1165.3" stroke="#000" stroke-width="1"/>
<line x1="247.3" y1="1160.3" x2="247.3" y2="1165.3" stroke="#000" stroke-width="1"/>
<g transform="translate(83.00 1182.50)"><text x="-15.00" y="0.00" font-size="15">Ni</text><text x="-0.84" y="3.50" font-size="10.5">2</text><text x="5.00" y="0.00" font-size="15">P</text></g>
<g transform="translate(124.20 1182.50)"><text x="-15.42" y="0.00" font-size="15">Ni</text><text x="-1.25" y="3.50" font-size="10.5">3</text><text x="4.59" y="0.00" font-size="15">C</text></g>
<text x="165.3" y="1182.5" font-size="15" text-anchor="middle" textLength="26.6" lengthAdjust="spacingAndGlyphs">NiO</text>
<g transform="translate(206.20 1182.50)"><text x="-19.18" y="0.00" font-size="15">NiSe</text><text x="13.34" y="3.50" font-size="10.5">2</text></g>
<g transform="translate(248.30 1182.50)"><text x="-15.00" y="0.00" font-size="15">NiS</text><text x="9.17" y="3.50" font-size="10.5">2</text></g>
<g transform="translate(26.60 1083.40) rotate(-90) scale(0.9237 1)" fill="#1f72e6"><text x="-14.78" y="0.00" font-size="15.6" font-style="italic">I</text><text x="-10.44" y="4.70" font-size="10.8">Band</text></g>
<g transform="translate(306.90 1083.40) rotate(90) scale(0.8757 1)" fill="#c8232c"><text x="-31.23" y="0.00" font-size="15.5" font-style="italic">E</text><text x="-20.89" y="5.50" font-size="11.5">ads</text><text x="-2.35" y="0.00" font-size="15.5"> (eV)</text></g>
<polyline points="91.3,1114.5 91.3,1107.2 78.3,1107.2" fill="none" stroke="#3b6fb5" stroke-width="1.1"/><polygon points="74.7,1107.2 80.7,1104.9 78.9,1107.2 80.7,1109.5" fill="#3b6fb5"/>
<polyline points="241.7,1112.1 241.7,1104.8 255.4,1104.8" fill="none" stroke="#c5293a" stroke-width="1.1"/><polygon points="259.0,1104.8 253.0,1107.1 254.8,1104.8 253.0,1102.5" fill="#c5293a"/>
<text x="695.0" y="724.3" font-size="21" font-weight="bold" fill="#000" stroke="#000" stroke-width="0.5">e</text>
<line x1="752.6" y1="724.1" x2="752.6" y2="926.6" stroke="#000" stroke-width="1.2"/>
<line x1="752.6" y1="724.8" x2="757.8" y2="724.8" stroke="#000" stroke-width="1.1"/>
<g transform="translate(745.60 729.10) scale(1.0600 1)"><text x="-18.07" y="0.00" font-size="13">4.5</text></g>
<line x1="752.6" y1="792.1" x2="757.8" y2="792.1" stroke="#000" stroke-width="1.1"/>
<g transform="translate(745.60 796.40) scale(1.0600 1)"><text x="-18.07" y="0.00" font-size="13">3.5</text></g>
<line x1="752.6" y1="859.3" x2="757.8" y2="859.3" stroke="#000" stroke-width="1.1"/>
<g transform="translate(745.60 863.60) scale(1.0600 1)"><text x="-18.07" y="0.00" font-size="13">2.5</text></g>
<line x1="752.6" y1="926.4" x2="757.8" y2="926.4" stroke="#000" stroke-width="1.1"/>
<g transform="translate(745.60 930.70) scale(1.0600 1)"><text x="-18.07" y="0.00" font-size="13">1.5</text></g>
<rect x="763.3" y="887.2" width="22.2" height="38.9" fill="#0b6fc2" stroke="#111" stroke-width="1"/>
<text x="774.4" y="877.4" font-size="16" text-anchor="middle" textLength="30.8" lengthAdjust="spacingAndGlyphs">2.08</text>
<rect x="808.0" y="879.1" width="22.2" height="47.0" fill="#ffc000" stroke="#111" stroke-width="1"/>
<text x="819.1" y="869.0" font-size="16" text-anchor="middle" textLength="30.8" lengthAdjust="spacingAndGlyphs">2.20</text>
<rect x="852.7" y="866.0" width="22.5" height="60.1" fill="#00a08a" stroke="#111" stroke-width="1"/>
<text x="864.0" y="855.3" font-size="16" text-anchor="middle" textLength="30.8" lengthAdjust="spacingAndGlyphs">2.39</text>
<rect x="897.7" y="856.3" width="22.1" height="69.8" fill="#a6a6a6" stroke="#111" stroke-width="1"/>
<text x="908.8" y="841.8" font-size="16" text-anchor="middle" textLength="30.8" lengthAdjust="spacingAndGlyphs">2.55</text>
<rect x="942.3" y="813.3" width="22.2" height="112.8" fill="#ed7d31" stroke="#111" stroke-width="1"/>
<text x="953.4" y="803.5" font-size="16" text-anchor="middle" textLength="30.8" lengthAdjust="spacingAndGlyphs">3.19</text>
<text x="774.4" y="944.6" font-size="15" text-anchor="middle" textLength="26.6" lengthAdjust="spacingAndGlyphs">NiO</text>
<g transform="translate(819.10 944.60)"><text x="-15.00" y="0.00" font-size="15">Ni</text><text x="-0.84" y="3.50" font-size="10.5">2</text><text x="5.00" y="0.00" font-size="15">P</text></g>
<g transform="translate(864.95 944.60)"><text x="-15.00" y="0.00" font-size="15">NiS</text><text x="9.17" y="3.50" font-size="10.5">2</text></g>
<g transform="translate(908.75 944.60)"><text x="-15.42" y="0.00" font-size="15">Ni</text><text x="-1.25" y="3.50" font-size="10.5">3</text><text x="4.59" y="0.00" font-size="15">C</text></g>
<g transform="translate(954.40 944.60)"><text x="-19.18" y="0.00" font-size="15">NiSe</text><text x="13.34" y="3.50" font-size="10.5">2</text></g>
<g transform="translate(848.00 771.60)"><text x="0.00" y="0.00" font-size="16" font-style="italic">r</text><text x="5.33" y="3.00" font-size="10.5">catal</text></g>
<path d="M768,845.5 C830,842 900,815 949,771" fill="none" stroke="#3d4a63" stroke-width="2.6" stroke-dasharray="5.8 3.6"/>
<polygon points="955.5,765.0 951.1,774.9 950.0,770.1 945.3,768.7" fill="#3d4a63"/>
<g transform="translate(709.80 825.20) rotate(-90) scale(1.0171 1)"><text x="-55.55" y="0.00" font-size="15">Average </text><text x="4.21" y="0.00" font-size="15" font-style="italic">r</text><text x="9.21" y="4.50" font-size="10.5">catal</text><text x="31.39" y="0.00" font-size="15"> (Å)</text></g>
<text x="695.5" y="1011.9" font-size="21" font-weight="bold" fill="#000" stroke="#000" stroke-width="0.5">f</text>
<polygon points="775.4,1025.9 780.9,1031.4 775.4,1036.9 769.9,1031.4" fill="#d6d6fb" stroke="#2f7be5" stroke-width="1.3"/>
<polygon points="816.0,1021.9 821.5,1027.4 816.0,1032.9 810.5,1027.4" fill="#ddc2fa" stroke="#8a2be2" stroke-width="1.3"/>
<polygon points="856.4,1046.7 861.9,1052.2 856.4,1057.7 850.9,1052.2" fill="#40d8a6" stroke="#2e9e56" stroke-width="1.3"/>
<polygon points="897.0,1042.7 902.5,1048.2 897.0,1053.7 891.5,1048.2" fill="#fbd6b2" stroke="#f79646" stroke-width="1.3"/>
<polygon points="937.3,1049.7 942.8,1055.2 937.3,1060.7 931.8,1055.2" fill="#fbd5d5" stroke="#f03020" stroke-width="1.3"/>
<polygon points="775.4,1101.2 779.6,1103.6 779.6,1108.4 775.4,1110.8 771.2,1108.4 771.2,1103.6" fill="#d6d6fb" stroke="#2f7be5" stroke-width="1.3"/>
<polygon points="816.0,1106.9 820.2,1109.3 820.2,1114.1 816.0,1116.5 811.8,1114.1 811.8,1109.3" fill="#ddc2fa" stroke="#8a2be2" stroke-width="1.3"/>
<polygon points="856.4,1115.6 860.6,1118.0 860.6,1122.8 856.4,1125.2 852.2,1122.8 852.2,1118.0" fill="#40d8a6" stroke="#2e9e56" stroke-width="1.3"/>
<polygon points="897.0,1121.7 901.2,1124.1 901.2,1128.9 897.0,1131.3 892.8,1128.9 892.8,1124.1" fill="#fbd6b2" stroke="#f79646" stroke-width="1.3"/>
<polygon points="937.3,1140.1 941.5,1142.5 941.5,1147.3 937.3,1149.7 933.1,1147.3 933.1,1142.5" fill="#fbd5d5" stroke="#f03020" stroke-width="1.3"/>
<line x1="773.4" y1="1024.7" x2="950.4" y2="1068.0" stroke="#000" stroke-width="2.8" stroke-dasharray="7.5 3.6"/>
<line x1="775.4" y1="1101.6" x2="937.3" y2="1143.6" stroke="#000" stroke-width="2.3" stroke-dasharray="7.5 3.6"/>
<rect x="755.2" y="1004.5" width="202.3" height="157.2" fill="none" stroke="#000" stroke-width="1.2"/>
<line x1="749.5" y1="1049.5" x2="755.2" y2="1049.5" stroke="#000" stroke-width="1.1"/>
<g transform="translate(744.80 1053.90) scale(1.0600 1)"><text x="-18.07" y="0.00" font-size="13">1.5</text></g>
<line x1="749.5" y1="1106.3" x2="755.2" y2="1106.3" stroke="#000" stroke-width="1.1"/>
<g transform="translate(744.80 1110.70) scale(1.0600 1)"><text x="-18.07" y="0.00" font-size="13">1.0</text></g>
<line x1="750.9" y1="1021.0" x2="755.2" y2="1021.0" stroke="#000" stroke-width="1.1"/>
<line x1="750.9" y1="1078.2" x2="755.2" y2="1078.2" stroke="#000" stroke-width="1.1"/>
<line x1="750.9" y1="1134.6" x2="755.2" y2="1134.6" stroke="#000" stroke-width="1.1"/>
<line x1="957.5" y1="1032.1" x2="963.2" y2="1032.1" stroke="#000" stroke-width="1.1"/>
<g transform="translate(968.90 1036.50) scale(1.0600 1)"><text x="0.00" y="0.00" font-size="13">2</text></g>
<line x1="957.5" y1="1069.0" x2="963.2" y2="1069.0" stroke="#000" stroke-width="1.1"/>
<g transform="translate(968.90 1073.40) scale(1.0600 1)"><text x="0.00" y="0.00" font-size="13">0</text></g>
<line x1="957.5" y1="1106.3" x2="963.2" y2="1106.3" stroke="#000" stroke-width="1.1"/>
<g transform="translate(968.90 1110.70) scale(1.0600 1)"><text x="0.00" y="-1.10" font-size="10.66">–</text><text x="5.93" y="0.00" font-size="13">2</text></g>
<line x1="957.5" y1="1143.6" x2="963.2" y2="1143.6" stroke="#000" stroke-width="1.1"/>
<g transform="translate(968.90 1148.00) scale(1.0600 1)"><text x="0.00" y="-1.10" font-size="10.66">–</text><text x="5.93" y="0.00" font-size="13">4</text></g>
<line x1="775.4" y1="1161.7" x2="775.4" y2="1167.2" stroke="#000" stroke-width="1"/>
<line x1="816.0" y1="1161.7" x2="816.0" y2="1167.2" stroke="#000" stroke-width="1"/>
<line x1="856.4" y1="1161.7" x2="856.4" y2="1167.2" stroke="#000" stroke-width="1"/>
<line x1="897.0" y1="1161.7" x2="897.0" y2="1167.2" stroke="#000" stroke-width="1"/>
<line x1="937.3" y1="1161.7" x2="937.3" y2="1167.2" stroke="#000" stroke-width="1"/>
<text x="775.4" y="1183.9" font-size="15" text-anchor="middle" textLength="26.6" lengthAdjust="spacingAndGlyphs">NiO</text>
<g transform="translate(816.00 1183.90)"><text x="-15.00" y="0.00" font-size="15">Ni</text><text x="-0.84" y="3.50" font-size="10.5">2</text><text x="5.00" y="0.00" font-size="15">P</text></g>
<g transform="translate(857.40 1183.90)"><text x="-15.00" y="0.00" font-size="15">NiS</text><text x="9.17" y="3.50" font-size="10.5">2</text></g>
<g transform="translate(897.00 1183.90)"><text x="-15.42" y="0.00" font-size="15">Ni</text><text x="-1.25" y="3.50" font-size="10.5">3</text><text x="4.59" y="0.00" font-size="15">C</text></g>
<g transform="translate(938.30 1183.90)"><text x="-19.18" y="0.00" font-size="15">NiSe</text><text x="13.34" y="3.50" font-size="10.5">2</text></g>
<g transform="translate(712.20 1082.70) rotate(-90) scale(0.9642 1)"><text x="-10.42" y="0.00" font-size="15" font-style="italic">I</text><text x="-6.26" y="5.00" font-size="10">Latt</text></g>
<g transform="translate(997.60 1083.00) rotate(90) scale(0.8880 1)"><text x="-41.72" y="0.00" font-size="16" font-style="italic">D</text><text x="-30.17" y="5.50" font-size="12.4">decom</text><text x="7.05" y="0.00" font-size="16"> (eV)</text></g>
<polyline points="920.2,1048.9 920.2,1041.1 933.8,1041.1" fill="none" stroke="#3d4a63" stroke-width="1.1"/><polygon points="937.4,1041.1 931.4,1043.4 933.2,1041.1 931.4,1038.8" fill="#3d4a63"/>
<polyline points="782.5,1113.7 782.5,1121.1 769.1,1121.1" fill="none" stroke="#3d4a63" stroke-width="1.1"/><polygon points="765.5,1121.1 771.5,1118.8 769.7,1121.1 771.5,1123.4" fill="#3d4a63"/>
<text x="339.5" y="701.0" font-size="21" font-weight="bold" fill="#000" stroke="#000" stroke-width="0.5">g</text>
<polygon points="412.6,715.3 409.6,707.3 412.6,709.7 415.6,707.3" fill="#3d4a63"/>
<polygon points="572.6,714.2 569.6,706.2 572.6,708.6 575.6,706.2" fill="#3d4a63"/>
<rect x="353.4" y="717.5" width="112.9" height="65.9" fill="none" stroke="#3d4a63" stroke-width="1" stroke-dasharray="5.9 3.2"/>
<rect x="532.2" y="716.1" width="113.4" height="67.3" fill="none" stroke="#3d4a63" stroke-width="1" stroke-dasharray="5.9 3.2"/>
<text x="407.9" y="745.6" font-size="17" text-anchor="middle" textLength="87.0" lengthAdjust="spacingAndGlyphs">Electronic</text>
<text x="409.5" y="767.5" font-size="17" text-anchor="middle" textLength="48.0" lengthAdjust="spacingAndGlyphs">effect</text>
<text x="588.5" y="745.6" font-size="17" text-anchor="middle" textLength="85.5" lengthAdjust="spacingAndGlyphs">Structural</text>
<text x="588.5" y="767.5" font-size="17" text-anchor="middle" textLength="48.0" lengthAdjust="spacingAndGlyphs">effect</text>
<path d="M405.7,783.4 L405.7,837 Q405.7,843.8 412.5,843.8 L469,843.8 Q476,843.8 476,850.6 L476,881" fill="none" stroke="#3d4a63" stroke-width="1" stroke-dasharray="5.9 3.2"/>
<polygon points="476.0,886.5 473.0,878.5 476.0,880.9 479.0,878.5" fill="#3d4a63"/>
<path d="M591.1,783.4 L591.1,835.5 Q591.1,842.2 584.3,842.2 L527.2,842.2 Q520.4,842.2 520.4,849 L520.4,879" fill="none" stroke="#3d4a63" stroke-width="1" stroke-dasharray="5.9 3.2"/>
<polygon points="520.4,884.4 517.4,876.4 520.4,878.8 523.4,876.4" fill="#3d4a63"/>
<polyline points="417.6,945.0 448.3,919.1 469.9,944.3 503.1,918.7" fill="none" stroke="#000" stroke-width="4.4"/>
<circle cx="417.6" cy="945.0" r="10.3" fill="#000"/>
<circle cx="448.3" cy="919.1" r="10.3" fill="#000"/>
<circle cx="469.9" cy="944.3" r="10.3" fill="#000"/>
<circle cx="503.1" cy="918.7" r="10.3" fill="#000"/>
<path d="M550.3,904.3 L552.1,898.0 L559.1,898.0 L560.9,904.3 L567.5,906.7 L572.9,903.0 L578.2,907.5 L575.5,913.4 L579.1,919.5 L585.5,920.2 L586.7,927.0 L580.9,929.9 L579.7,936.8 L584.2,941.5 L580.7,947.5 L574.4,945.9 L569.0,950.5 L569.5,956.9 L562.9,959.3 L559.1,954.1 L552.1,954.1 L548.3,959.3 L541.7,956.9 L542.2,950.5 L536.8,945.9 L530.5,947.5 L527.0,941.5 L531.5,936.8 L530.3,929.9 L524.5,927.0 L525.7,920.2 L532.1,919.5 L535.7,913.4 L533.0,907.5 L538.3,903.0 L543.7,906.7 Z M572.6,929.0 A17.0,17.0 0 1 0 538.6,929.0 A17.0,17.0 0 1 0 572.6,929.0 Z" fill="#000" fill-rule="evenodd"/>
<text x="498.8" y="992.0" font-size="16.5" text-anchor="middle" textLength="148.3" lengthAdjust="spacingAndGlyphs">Machine-learning</text>
<text x="496.5" y="1014.5" font-size="16.5" text-anchor="middle" textLength="54.6" lengthAdjust="spacingAndGlyphs">model</text>
<line x1="498.4" y1="1028.1" x2="498.4" y2="1067.0" stroke="#3d4a63" stroke-width="1" stroke-dasharray="5.9 3.2"/>
<polygon points="498.4,1073.0 495.4,1065.0 498.4,1067.4 501.4,1065.0" fill="#3d4a63"/>
<text x="499.0" y="1101.9" font-size="17" text-anchor="middle" textLength="186.7" lengthAdjust="spacingAndGlyphs">Binary descriptor (BD)</text>
<rect x="335.2" y="1120.9" width="332.0" height="51.0" fill="#fdeee4"/>
<g transform="translate(359.50 1149.80) scale(1.0816 1)"><text x="0.00" y="0.00" font-size="18" font-style="italic">λ</text><text x="8.86" y="3.50" font-size="12.5">1</text><text x="15.81" y="0.00" font-size="18" font-style="italic">I</text><text x="20.81" y="4.00" font-size="13">Band</text><text x="51.17" y="0.00" font-size="17">(</text><text x="56.83" y="0.00" font-size="17" font-style="italic">d–p</text><text x="85.20" y="0.00" font-size="17">) + </text><text x="110.23" y="0.00" font-size="18" font-style="italic">λ</text><text x="119.09" y="3.50" font-size="12.5">2</text><text x="126.04" y="0.00" font-size="18" font-style="italic">I</text><text x="131.05" y="4.00" font-size="13">Band</text><text x="161.40" y="0.00" font-size="17">(</text><text x="167.07" y="0.00" font-size="17" font-style="italic">s–p</text><text x="194.47" y="0.00" font-size="17">) + </text><text x="219.51" y="0.00" font-size="18" font-style="italic">λ</text><text x="228.37" y="3.50" font-size="12.5">3</text><text x="235.32" y="0.00" font-size="18" font-style="italic">I</text><text x="240.32" y="4.00" font-size="13">Latt</text></g>
</g>
</svg>
</body></html>
